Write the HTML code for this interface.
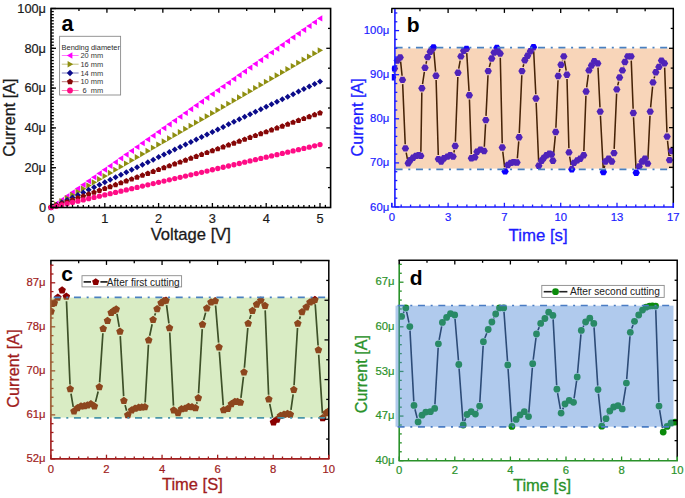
<!DOCTYPE html>
<html><head><meta charset="utf-8"><title>Figure</title>
<style>html,body{margin:0;padding:0;background:#fff;}svg{display:block;}</style>
</head><body><svg width="685" height="498" viewBox="0 0 685 498" font-family='"Liberation Sans", sans-serif'><defs><clipPath id="cb"><rect x="391.8" y="8.6" width="281.5" height="198.4"/></clipPath><clipPath id="cc"><rect x="50.9" y="260.6" width="277.9" height="198.3"/></clipPath><clipPath id="cd"><rect x="399.2" y="260.2" width="278" height="200.5"/></clipPath></defs><rect width="685" height="498" fill="#fff"/><polygon points="47.9,207.5 53.33,204.4 53.33,210.6" fill="#ff00ff"/><polygon points="53.28,203.72 58.71,200.62 58.71,206.82" fill="#ff00ff"/><polygon points="58.66,199.94 64.08,196.84 64.08,203.04" fill="#ff00ff"/><polygon points="64.04,196.16 69.47,193.06 69.47,199.26" fill="#ff00ff"/><polygon points="69.42,192.38 74.84,189.28 74.84,195.48" fill="#ff00ff"/><polygon points="74.8,188.59 80.23,185.5 80.23,191.69" fill="#ff00ff"/><polygon points="80.18,184.81 85.61,181.71 85.61,187.91" fill="#ff00ff"/><polygon points="85.56,181.03 90.98,177.93 90.98,184.13" fill="#ff00ff"/><polygon points="90.94,177.25 96.36,174.15 96.36,180.35" fill="#ff00ff"/><polygon points="96.32,173.47 101.75,170.37 101.75,176.57" fill="#ff00ff"/><polygon points="101.7,169.69 107.12,166.59 107.12,172.79" fill="#ff00ff"/><polygon points="107.08,165.91 112.51,162.81 112.51,169.01" fill="#ff00ff"/><polygon points="112.46,162.13 117.89,159.03 117.89,165.23" fill="#ff00ff"/><polygon points="117.84,158.35 123.27,155.25 123.27,161.45" fill="#ff00ff"/><polygon points="123.22,154.57 128.65,151.47 128.65,157.67" fill="#ff00ff"/><polygon points="128.6,150.78 134.02,147.69 134.02,153.88" fill="#ff00ff"/><polygon points="133.98,147 139.4,143.9 139.4,150.1" fill="#ff00ff"/><polygon points="139.36,143.22 144.78,140.12 144.78,146.32" fill="#ff00ff"/><polygon points="144.74,139.44 150.16,136.34 150.16,142.54" fill="#ff00ff"/><polygon points="150.12,135.66 155.54,132.56 155.54,138.76" fill="#ff00ff"/><polygon points="155.5,131.88 160.92,128.78 160.92,134.98" fill="#ff00ff"/><polygon points="160.88,128.1 166.31,125 166.31,131.2" fill="#ff00ff"/><polygon points="166.26,124.32 171.69,121.22 171.69,127.42" fill="#ff00ff"/><polygon points="171.64,120.54 177.06,117.44 177.06,123.64" fill="#ff00ff"/><polygon points="177.02,116.76 182.44,113.66 182.44,119.86" fill="#ff00ff"/><polygon points="182.4,112.97 187.82,109.88 187.82,116.07" fill="#ff00ff"/><polygon points="187.78,109.19 193.2,106.09 193.2,112.29" fill="#ff00ff"/><polygon points="193.16,105.41 198.58,102.31 198.58,108.51" fill="#ff00ff"/><polygon points="198.54,101.63 203.97,98.53 203.97,104.73" fill="#ff00ff"/><polygon points="203.92,97.85 209.34,94.75 209.34,100.95" fill="#ff00ff"/><polygon points="209.3,94.07 214.72,90.97 214.72,97.17" fill="#ff00ff"/><polygon points="214.68,90.29 220.1,87.19 220.1,93.39" fill="#ff00ff"/><polygon points="220.06,86.51 225.48,83.41 225.48,89.61" fill="#ff00ff"/><polygon points="225.44,82.73 230.86,79.63 230.86,85.83" fill="#ff00ff"/><polygon points="230.82,78.95 236.25,75.85 236.25,82.05" fill="#ff00ff"/><polygon points="236.2,75.16 241.62,72.06 241.62,78.26" fill="#ff00ff"/><polygon points="241.58,71.38 247,68.28 247,74.48" fill="#ff00ff"/><polygon points="246.96,67.6 252.38,64.5 252.38,70.7" fill="#ff00ff"/><polygon points="252.34,63.82 257.76,60.72 257.76,66.92" fill="#ff00ff"/><polygon points="257.72,60.04 263.15,56.94 263.15,63.14" fill="#ff00ff"/><polygon points="263.1,56.26 268.52,53.16 268.52,59.36" fill="#ff00ff"/><polygon points="268.48,52.48 273.91,49.38 273.91,55.58" fill="#ff00ff"/><polygon points="273.86,48.7 279.29,45.6 279.29,51.8" fill="#ff00ff"/><polygon points="279.24,44.92 284.66,41.82 284.66,48.02" fill="#ff00ff"/><polygon points="284.62,41.14 290.05,38.04 290.05,44.24" fill="#ff00ff"/><polygon points="290,37.35 295.43,34.25 295.43,40.45" fill="#ff00ff"/><polygon points="295.38,33.57 300.81,30.47 300.81,36.67" fill="#ff00ff"/><polygon points="300.76,29.79 306.19,26.69 306.19,32.89" fill="#ff00ff"/><polygon points="306.14,26.01 311.56,22.91 311.56,29.11" fill="#ff00ff"/><polygon points="311.52,22.23 316.94,19.13 316.94,25.33" fill="#ff00ff"/><polygon points="316.9,18.45 322.32,15.35 322.32,21.55" fill="#ff00ff"/><polygon points="54.1,207.5 48.67,204.4 48.67,210.6" fill="#8e8e10"/><polygon points="59.48,204.36 54.05,201.26 54.05,207.46" fill="#8e8e10"/><polygon points="64.86,201.21 59.43,198.11 59.43,204.31" fill="#8e8e10"/><polygon points="70.24,198.07 64.81,194.97 64.81,201.17" fill="#8e8e10"/><polygon points="75.62,194.92 70.19,191.82 70.19,198.02" fill="#8e8e10"/><polygon points="81,191.78 75.58,188.68 75.58,194.88" fill="#8e8e10"/><polygon points="86.38,188.63 80.95,185.53 80.95,191.73" fill="#8e8e10"/><polygon points="91.76,185.49 86.33,182.39 86.33,188.59" fill="#8e8e10"/><polygon points="97.14,182.35 91.71,179.25 91.71,185.45" fill="#8e8e10"/><polygon points="102.52,179.2 97.09,176.1 97.09,182.3" fill="#8e8e10"/><polygon points="107.9,176.06 102.47,172.96 102.47,179.16" fill="#8e8e10"/><polygon points="113.28,172.91 107.86,169.81 107.86,176.01" fill="#8e8e10"/><polygon points="118.66,169.77 113.23,166.67 113.23,172.87" fill="#8e8e10"/><polygon points="124.04,166.63 118.61,163.53 118.61,169.73" fill="#8e8e10"/><polygon points="129.42,163.48 124,160.38 124,166.58" fill="#8e8e10"/><polygon points="134.8,160.34 129.38,157.24 129.38,163.44" fill="#8e8e10"/><polygon points="140.18,157.19 134.75,154.09 134.75,160.29" fill="#8e8e10"/><polygon points="145.56,154.05 140.14,150.95 140.14,157.15" fill="#8e8e10"/><polygon points="150.94,150.9 145.52,147.8 145.52,154" fill="#8e8e10"/><polygon points="156.32,147.76 150.9,144.66 150.9,150.86" fill="#8e8e10"/><polygon points="161.7,144.62 156.28,141.52 156.28,147.72" fill="#8e8e10"/><polygon points="167.08,141.47 161.66,138.37 161.66,144.57" fill="#8e8e10"/><polygon points="172.46,138.33 167.04,135.23 167.04,141.43" fill="#8e8e10"/><polygon points="177.84,135.18 172.42,132.08 172.42,138.28" fill="#8e8e10"/><polygon points="183.22,132.04 177.8,128.94 177.8,135.14" fill="#8e8e10"/><polygon points="188.6,128.89 183.18,125.79 183.18,131.99" fill="#8e8e10"/><polygon points="193.98,125.75 188.56,122.65 188.56,128.85" fill="#8e8e10"/><polygon points="199.36,122.61 193.94,119.51 193.94,125.71" fill="#8e8e10"/><polygon points="204.74,119.46 199.32,116.36 199.32,122.56" fill="#8e8e10"/><polygon points="210.12,116.32 204.7,113.22 204.7,119.42" fill="#8e8e10"/><polygon points="215.5,113.17 210.07,110.07 210.07,116.27" fill="#8e8e10"/><polygon points="220.88,110.03 215.46,106.93 215.46,113.13" fill="#8e8e10"/><polygon points="226.26,106.89 220.84,103.79 220.84,109.99" fill="#8e8e10"/><polygon points="231.64,103.74 226.22,100.64 226.22,106.84" fill="#8e8e10"/><polygon points="237.02,100.6 231.6,97.5 231.6,103.7" fill="#8e8e10"/><polygon points="242.4,97.45 236.97,94.35 236.97,100.55" fill="#8e8e10"/><polygon points="247.78,94.31 242.36,91.21 242.36,97.41" fill="#8e8e10"/><polygon points="253.16,91.16 247.74,88.06 247.74,94.26" fill="#8e8e10"/><polygon points="258.54,88.02 253.12,84.92 253.12,91.12" fill="#8e8e10"/><polygon points="263.92,84.88 258.5,81.78 258.5,87.98" fill="#8e8e10"/><polygon points="269.3,81.73 263.88,78.63 263.88,84.83" fill="#8e8e10"/><polygon points="274.68,78.59 269.26,75.49 269.26,81.69" fill="#8e8e10"/><polygon points="280.06,75.44 274.64,72.34 274.64,78.54" fill="#8e8e10"/><polygon points="285.44,72.3 280.01,69.2 280.01,75.4" fill="#8e8e10"/><polygon points="290.82,69.16 285.4,66.06 285.4,72.26" fill="#8e8e10"/><polygon points="296.2,66.01 290.78,62.91 290.78,69.11" fill="#8e8e10"/><polygon points="301.58,62.87 296.16,59.77 296.16,65.97" fill="#8e8e10"/><polygon points="306.96,59.72 301.54,56.62 301.54,62.82" fill="#8e8e10"/><polygon points="312.34,56.58 306.92,53.48 306.92,59.68" fill="#8e8e10"/><polygon points="317.72,53.43 312.3,50.33 312.3,56.53" fill="#8e8e10"/><polygon points="323.1,50.29 317.68,47.19 317.68,53.39" fill="#8e8e10"/><polygon points="51,204.5 54,207.5 51,210.5 48,207.5" fill="#0b0b8a"/><polygon points="56.38,201.98 59.38,204.98 56.38,207.98 53.38,204.98" fill="#0b0b8a"/><polygon points="61.76,199.46 64.76,202.46 61.76,205.46 58.76,202.46" fill="#0b0b8a"/><polygon points="67.14,196.94 70.14,199.94 67.14,202.94 64.14,199.94" fill="#0b0b8a"/><polygon points="72.52,194.42 75.52,197.42 72.52,200.42 69.52,197.42" fill="#0b0b8a"/><polygon points="77.9,191.9 80.9,194.9 77.9,197.9 74.9,194.9" fill="#0b0b8a"/><polygon points="83.28,189.38 86.28,192.38 83.28,195.38 80.28,192.38" fill="#0b0b8a"/><polygon points="88.66,186.86 91.66,189.86 88.66,192.86 85.66,189.86" fill="#0b0b8a"/><polygon points="94.04,184.35 97.04,187.35 94.04,190.35 91.04,187.35" fill="#0b0b8a"/><polygon points="99.42,181.83 102.42,184.83 99.42,187.83 96.42,184.83" fill="#0b0b8a"/><polygon points="104.8,179.31 107.8,182.31 104.8,185.31 101.8,182.31" fill="#0b0b8a"/><polygon points="110.18,176.79 113.18,179.79 110.18,182.79 107.18,179.79" fill="#0b0b8a"/><polygon points="115.56,174.27 118.56,177.27 115.56,180.27 112.56,177.27" fill="#0b0b8a"/><polygon points="120.94,171.75 123.94,174.75 120.94,177.75 117.94,174.75" fill="#0b0b8a"/><polygon points="126.32,169.23 129.32,172.23 126.32,175.23 123.32,172.23" fill="#0b0b8a"/><polygon points="131.7,166.71 134.7,169.71 131.7,172.71 128.7,169.71" fill="#0b0b8a"/><polygon points="137.08,164.19 140.08,167.19 137.08,170.19 134.08,167.19" fill="#0b0b8a"/><polygon points="142.46,161.67 145.46,164.67 142.46,167.67 139.46,164.67" fill="#0b0b8a"/><polygon points="147.84,159.15 150.84,162.15 147.84,165.15 144.84,162.15" fill="#0b0b8a"/><polygon points="153.22,156.63 156.22,159.63 153.22,162.63 150.22,159.63" fill="#0b0b8a"/><polygon points="158.6,154.11 161.6,157.11 158.6,160.11 155.6,157.11" fill="#0b0b8a"/><polygon points="163.98,151.59 166.98,154.59 163.98,157.59 160.98,154.59" fill="#0b0b8a"/><polygon points="169.36,149.07 172.36,152.07 169.36,155.07 166.36,152.07" fill="#0b0b8a"/><polygon points="174.74,146.56 177.74,149.56 174.74,152.56 171.74,149.56" fill="#0b0b8a"/><polygon points="180.12,144.04 183.12,147.04 180.12,150.04 177.12,147.04" fill="#0b0b8a"/><polygon points="185.5,141.52 188.5,144.52 185.5,147.52 182.5,144.52" fill="#0b0b8a"/><polygon points="190.88,139 193.88,142 190.88,145 187.88,142" fill="#0b0b8a"/><polygon points="196.26,136.48 199.26,139.48 196.26,142.48 193.26,139.48" fill="#0b0b8a"/><polygon points="201.64,133.96 204.64,136.96 201.64,139.96 198.64,136.96" fill="#0b0b8a"/><polygon points="207.02,131.44 210.02,134.44 207.02,137.44 204.02,134.44" fill="#0b0b8a"/><polygon points="212.4,128.92 215.4,131.92 212.4,134.92 209.4,131.92" fill="#0b0b8a"/><polygon points="217.78,126.4 220.78,129.4 217.78,132.4 214.78,129.4" fill="#0b0b8a"/><polygon points="223.16,123.88 226.16,126.88 223.16,129.88 220.16,126.88" fill="#0b0b8a"/><polygon points="228.54,121.36 231.54,124.36 228.54,127.36 225.54,124.36" fill="#0b0b8a"/><polygon points="233.92,118.84 236.92,121.84 233.92,124.84 230.92,121.84" fill="#0b0b8a"/><polygon points="239.3,116.32 242.3,119.32 239.3,122.32 236.3,119.32" fill="#0b0b8a"/><polygon points="244.68,113.8 247.68,116.8 244.68,119.8 241.68,116.8" fill="#0b0b8a"/><polygon points="250.06,111.28 253.06,114.28 250.06,117.28 247.06,114.28" fill="#0b0b8a"/><polygon points="255.44,108.77 258.44,111.77 255.44,114.77 252.44,111.77" fill="#0b0b8a"/><polygon points="260.82,106.25 263.82,109.25 260.82,112.25 257.82,109.25" fill="#0b0b8a"/><polygon points="266.2,103.73 269.2,106.73 266.2,109.73 263.2,106.73" fill="#0b0b8a"/><polygon points="271.58,101.21 274.58,104.21 271.58,107.21 268.58,104.21" fill="#0b0b8a"/><polygon points="276.96,98.69 279.96,101.69 276.96,104.69 273.96,101.69" fill="#0b0b8a"/><polygon points="282.34,96.17 285.34,99.17 282.34,102.17 279.34,99.17" fill="#0b0b8a"/><polygon points="287.72,93.65 290.72,96.65 287.72,99.65 284.72,96.65" fill="#0b0b8a"/><polygon points="293.1,91.13 296.1,94.13 293.1,97.13 290.1,94.13" fill="#0b0b8a"/><polygon points="298.48,88.61 301.48,91.61 298.48,94.61 295.48,91.61" fill="#0b0b8a"/><polygon points="303.86,86.09 306.86,89.09 303.86,92.09 300.86,89.09" fill="#0b0b8a"/><polygon points="309.24,83.57 312.24,86.57 309.24,89.57 306.24,86.57" fill="#0b0b8a"/><polygon points="314.62,81.05 317.62,84.05 314.62,87.05 311.62,84.05" fill="#0b0b8a"/><polygon points="320,78.53 323,81.53 320,84.53 317,81.53" fill="#0b0b8a"/><polygon points="51,204.5 53.85,206.57 52.76,209.93 49.24,209.93 48.15,206.57" fill="#860606"/><polygon points="56.38,202.61 59.23,204.68 58.14,208.04 54.62,208.04 53.53,204.68" fill="#860606"/><polygon points="61.76,200.72 64.61,202.79 63.52,206.15 60,206.15 58.91,202.79" fill="#860606"/><polygon points="67.14,198.83 69.99,200.9 68.9,204.26 65.38,204.26 64.29,200.9" fill="#860606"/><polygon points="72.52,196.94 75.37,199.01 74.28,202.37 70.76,202.37 69.67,199.01" fill="#860606"/><polygon points="77.9,195.05 80.75,197.12 79.66,200.47 76.14,200.47 75.05,197.12" fill="#860606"/><polygon points="83.28,193.16 86.13,195.23 85.04,198.58 81.52,198.58 80.43,195.23" fill="#860606"/><polygon points="88.66,191.27 91.51,193.34 90.42,196.69 86.9,196.69 85.81,193.34" fill="#860606"/><polygon points="94.04,189.38 96.89,191.45 95.8,194.8 92.28,194.8 91.19,191.45" fill="#860606"/><polygon points="99.42,187.49 102.27,189.56 101.18,192.91 97.66,192.91 96.57,189.56" fill="#860606"/><polygon points="104.8,185.59 107.65,187.67 106.56,191.02 103.04,191.02 101.95,187.67" fill="#860606"/><polygon points="110.18,183.7 113.03,185.78 111.94,189.13 108.42,189.13 107.33,185.78" fill="#860606"/><polygon points="115.56,181.81 118.41,183.89 117.32,187.24 113.8,187.24 112.71,183.89" fill="#860606"/><polygon points="120.94,179.92 123.79,182 122.7,185.35 119.18,185.35 118.09,182" fill="#860606"/><polygon points="126.32,178.03 129.17,180.11 128.08,183.46 124.56,183.46 123.47,180.11" fill="#860606"/><polygon points="131.7,176.14 134.55,178.22 133.46,181.57 129.94,181.57 128.85,178.22" fill="#860606"/><polygon points="137.08,174.25 139.93,176.32 138.84,179.68 135.32,179.68 134.23,176.32" fill="#860606"/><polygon points="142.46,172.36 145.31,174.43 144.22,177.79 140.7,177.79 139.61,174.43" fill="#860606"/><polygon points="147.84,170.47 150.69,172.54 149.6,175.9 146.08,175.9 144.99,172.54" fill="#860606"/><polygon points="153.22,168.58 156.07,170.65 154.98,174.01 151.46,174.01 150.37,170.65" fill="#860606"/><polygon points="158.6,166.69 161.45,168.76 160.36,172.12 156.84,172.12 155.75,168.76" fill="#860606"/><polygon points="163.98,164.8 166.83,166.87 165.74,170.23 162.22,170.23 161.13,166.87" fill="#860606"/><polygon points="169.36,162.91 172.21,164.98 171.12,168.34 167.6,168.34 166.51,164.98" fill="#860606"/><polygon points="174.74,161.02 177.59,163.09 176.5,166.45 172.98,166.45 171.89,163.09" fill="#860606"/><polygon points="180.12,159.13 182.97,161.2 181.88,164.56 178.36,164.56 177.27,161.2" fill="#860606"/><polygon points="185.5,157.24 188.35,159.31 187.26,162.66 183.74,162.66 182.65,159.31" fill="#860606"/><polygon points="190.88,155.35 193.73,157.42 192.64,160.77 189.12,160.77 188.03,157.42" fill="#860606"/><polygon points="196.26,153.46 199.11,155.53 198.02,158.88 194.5,158.88 193.41,155.53" fill="#860606"/><polygon points="201.64,151.57 204.49,153.64 203.4,156.99 199.88,156.99 198.79,153.64" fill="#860606"/><polygon points="207.02,149.68 209.87,151.75 208.78,155.1 205.26,155.1 204.17,151.75" fill="#860606"/><polygon points="212.4,147.78 215.25,149.86 214.16,153.21 210.64,153.21 209.55,149.86" fill="#860606"/><polygon points="217.78,145.89 220.63,147.97 219.54,151.32 216.02,151.32 214.93,147.97" fill="#860606"/><polygon points="223.16,144 226.01,146.08 224.92,149.43 221.4,149.43 220.31,146.08" fill="#860606"/><polygon points="228.54,142.11 231.39,144.19 230.3,147.54 226.78,147.54 225.69,144.19" fill="#860606"/><polygon points="233.92,140.22 236.77,142.3 235.68,145.65 232.16,145.65 231.07,142.3" fill="#860606"/><polygon points="239.3,138.33 242.15,140.41 241.06,143.76 237.54,143.76 236.45,140.41" fill="#860606"/><polygon points="244.68,136.44 247.53,138.51 246.44,141.87 242.92,141.87 241.83,138.51" fill="#860606"/><polygon points="250.06,134.55 252.91,136.62 251.82,139.98 248.3,139.98 247.21,136.62" fill="#860606"/><polygon points="255.44,132.66 258.29,134.73 257.2,138.09 253.68,138.09 252.59,134.73" fill="#860606"/><polygon points="260.82,130.77 263.67,132.84 262.58,136.2 259.06,136.2 257.97,132.84" fill="#860606"/><polygon points="266.2,128.88 269.05,130.95 267.96,134.31 264.44,134.31 263.35,130.95" fill="#860606"/><polygon points="271.58,126.99 274.43,129.06 273.34,132.42 269.82,132.42 268.73,129.06" fill="#860606"/><polygon points="276.96,125.1 279.81,127.17 278.72,130.53 275.2,130.53 274.11,127.17" fill="#860606"/><polygon points="282.34,123.21 285.19,125.28 284.1,128.64 280.58,128.64 279.49,125.28" fill="#860606"/><polygon points="287.72,121.32 290.57,123.39 289.48,126.75 285.96,126.75 284.87,123.39" fill="#860606"/><polygon points="293.1,119.43 295.95,121.5 294.86,124.85 291.34,124.85 290.25,121.5" fill="#860606"/><polygon points="298.48,117.54 301.33,119.61 300.24,122.96 296.72,122.96 295.63,119.61" fill="#860606"/><polygon points="303.86,115.65 306.71,117.72 305.62,121.07 302.1,121.07 301.01,117.72" fill="#860606"/><polygon points="309.24,113.76 312.09,115.83 311,119.18 307.48,119.18 306.39,115.83" fill="#860606"/><polygon points="314.62,111.87 317.47,113.94 316.38,117.29 312.86,117.29 311.77,113.94" fill="#860606"/><polygon points="320,109.97 322.85,112.05 321.76,115.4 318.24,115.4 317.15,112.05" fill="#860606"/><circle cx="51" cy="207.5" r="2.65" fill="#ff0c86"/><circle cx="56.38" cy="206.24" r="2.65" fill="#ff0c86"/><circle cx="61.76" cy="204.98" r="2.65" fill="#ff0c86"/><circle cx="67.14" cy="203.73" r="2.65" fill="#ff0c86"/><circle cx="72.52" cy="202.47" r="2.65" fill="#ff0c86"/><circle cx="77.9" cy="201.21" r="2.65" fill="#ff0c86"/><circle cx="83.28" cy="199.95" r="2.65" fill="#ff0c86"/><circle cx="88.66" cy="198.7" r="2.65" fill="#ff0c86"/><circle cx="94.04" cy="197.44" r="2.65" fill="#ff0c86"/><circle cx="99.42" cy="196.18" r="2.65" fill="#ff0c86"/><circle cx="104.8" cy="194.92" r="2.65" fill="#ff0c86"/><circle cx="110.18" cy="193.67" r="2.65" fill="#ff0c86"/><circle cx="115.56" cy="192.41" r="2.65" fill="#ff0c86"/><circle cx="120.94" cy="191.15" r="2.65" fill="#ff0c86"/><circle cx="126.32" cy="189.89" r="2.65" fill="#ff0c86"/><circle cx="131.7" cy="188.63" r="2.65" fill="#ff0c86"/><circle cx="137.08" cy="187.38" r="2.65" fill="#ff0c86"/><circle cx="142.46" cy="186.12" r="2.65" fill="#ff0c86"/><circle cx="147.84" cy="184.86" r="2.65" fill="#ff0c86"/><circle cx="153.22" cy="183.6" r="2.65" fill="#ff0c86"/><circle cx="158.6" cy="182.35" r="2.65" fill="#ff0c86"/><circle cx="163.98" cy="181.09" r="2.65" fill="#ff0c86"/><circle cx="169.36" cy="179.83" r="2.65" fill="#ff0c86"/><circle cx="174.74" cy="178.57" r="2.65" fill="#ff0c86"/><circle cx="180.12" cy="177.32" r="2.65" fill="#ff0c86"/><circle cx="185.5" cy="176.06" r="2.65" fill="#ff0c86"/><circle cx="190.88" cy="174.8" r="2.65" fill="#ff0c86"/><circle cx="196.26" cy="173.54" r="2.65" fill="#ff0c86"/><circle cx="201.64" cy="172.28" r="2.65" fill="#ff0c86"/><circle cx="207.02" cy="171.03" r="2.65" fill="#ff0c86"/><circle cx="212.4" cy="169.77" r="2.65" fill="#ff0c86"/><circle cx="217.78" cy="168.51" r="2.65" fill="#ff0c86"/><circle cx="223.16" cy="167.25" r="2.65" fill="#ff0c86"/><circle cx="228.54" cy="166" r="2.65" fill="#ff0c86"/><circle cx="233.92" cy="164.74" r="2.65" fill="#ff0c86"/><circle cx="239.3" cy="163.48" r="2.65" fill="#ff0c86"/><circle cx="244.68" cy="162.22" r="2.65" fill="#ff0c86"/><circle cx="250.06" cy="160.97" r="2.65" fill="#ff0c86"/><circle cx="255.44" cy="159.71" r="2.65" fill="#ff0c86"/><circle cx="260.82" cy="158.45" r="2.65" fill="#ff0c86"/><circle cx="266.2" cy="157.19" r="2.65" fill="#ff0c86"/><circle cx="271.58" cy="155.94" r="2.65" fill="#ff0c86"/><circle cx="276.96" cy="154.68" r="2.65" fill="#ff0c86"/><circle cx="282.34" cy="153.42" r="2.65" fill="#ff0c86"/><circle cx="287.72" cy="152.16" r="2.65" fill="#ff0c86"/><circle cx="293.1" cy="150.9" r="2.65" fill="#ff0c86"/><circle cx="298.48" cy="149.65" r="2.65" fill="#ff0c86"/><circle cx="303.86" cy="148.39" r="2.65" fill="#ff0c86"/><circle cx="309.24" cy="147.13" r="2.65" fill="#ff0c86"/><circle cx="314.62" cy="145.87" r="2.65" fill="#ff0c86"/><circle cx="320" cy="144.62" r="2.65" fill="#ff0c86"/><rect x="51" y="8.5" width="279.6" height="199" fill="none" stroke="#000" stroke-width="1.6"/><line x1="78.96" y1="8.5" x2="78.96" y2="11.1" stroke="#000" stroke-width="1.3"/><line x1="330.6" y1="28.4" x2="328" y2="28.4" stroke="#000" stroke-width="1.3"/><line x1="106.92" y1="8.5" x2="106.92" y2="12.8" stroke="#000" stroke-width="1.3"/><line x1="330.6" y1="48.3" x2="326.3" y2="48.3" stroke="#000" stroke-width="1.3"/><line x1="134.88" y1="8.5" x2="134.88" y2="11.1" stroke="#000" stroke-width="1.3"/><line x1="330.6" y1="68.2" x2="328" y2="68.2" stroke="#000" stroke-width="1.3"/><line x1="162.84" y1="8.5" x2="162.84" y2="12.8" stroke="#000" stroke-width="1.3"/><line x1="330.6" y1="88.1" x2="326.3" y2="88.1" stroke="#000" stroke-width="1.3"/><line x1="190.8" y1="8.5" x2="190.8" y2="11.1" stroke="#000" stroke-width="1.3"/><line x1="330.6" y1="108" x2="328" y2="108" stroke="#000" stroke-width="1.3"/><line x1="218.76" y1="8.5" x2="218.76" y2="12.8" stroke="#000" stroke-width="1.3"/><line x1="330.6" y1="127.9" x2="326.3" y2="127.9" stroke="#000" stroke-width="1.3"/><line x1="246.72" y1="8.5" x2="246.72" y2="11.1" stroke="#000" stroke-width="1.3"/><line x1="330.6" y1="147.8" x2="328" y2="147.8" stroke="#000" stroke-width="1.3"/><line x1="274.68" y1="8.5" x2="274.68" y2="12.8" stroke="#000" stroke-width="1.3"/><line x1="330.6" y1="167.7" x2="326.3" y2="167.7" stroke="#000" stroke-width="1.3"/><line x1="302.64" y1="8.5" x2="302.64" y2="11.1" stroke="#000" stroke-width="1.3"/><line x1="330.6" y1="187.6" x2="328" y2="187.6" stroke="#000" stroke-width="1.3"/><line x1="51" y1="207.5" x2="51" y2="203" stroke="#000" stroke-width="1.3"/><line x1="56.38" y1="207.5" x2="56.38" y2="204.9" stroke="#000" stroke-width="1.3"/><line x1="61.76" y1="207.5" x2="61.76" y2="204.9" stroke="#000" stroke-width="1.3"/><line x1="67.14" y1="207.5" x2="67.14" y2="204.9" stroke="#000" stroke-width="1.3"/><line x1="72.52" y1="207.5" x2="72.52" y2="204.9" stroke="#000" stroke-width="1.3"/><line x1="77.9" y1="207.5" x2="77.9" y2="204.9" stroke="#000" stroke-width="1.3"/><line x1="83.28" y1="207.5" x2="83.28" y2="204.9" stroke="#000" stroke-width="1.3"/><line x1="88.66" y1="207.5" x2="88.66" y2="204.9" stroke="#000" stroke-width="1.3"/><line x1="94.04" y1="207.5" x2="94.04" y2="204.9" stroke="#000" stroke-width="1.3"/><line x1="99.42" y1="207.5" x2="99.42" y2="204.9" stroke="#000" stroke-width="1.3"/><line x1="104.8" y1="207.5" x2="104.8" y2="203" stroke="#000" stroke-width="1.3"/><line x1="110.18" y1="207.5" x2="110.18" y2="204.9" stroke="#000" stroke-width="1.3"/><line x1="115.56" y1="207.5" x2="115.56" y2="204.9" stroke="#000" stroke-width="1.3"/><line x1="120.94" y1="207.5" x2="120.94" y2="204.9" stroke="#000" stroke-width="1.3"/><line x1="126.32" y1="207.5" x2="126.32" y2="204.9" stroke="#000" stroke-width="1.3"/><line x1="131.7" y1="207.5" x2="131.7" y2="204.9" stroke="#000" stroke-width="1.3"/><line x1="137.08" y1="207.5" x2="137.08" y2="204.9" stroke="#000" stroke-width="1.3"/><line x1="142.46" y1="207.5" x2="142.46" y2="204.9" stroke="#000" stroke-width="1.3"/><line x1="147.84" y1="207.5" x2="147.84" y2="204.9" stroke="#000" stroke-width="1.3"/><line x1="153.22" y1="207.5" x2="153.22" y2="204.9" stroke="#000" stroke-width="1.3"/><line x1="158.6" y1="207.5" x2="158.6" y2="203" stroke="#000" stroke-width="1.3"/><line x1="163.98" y1="207.5" x2="163.98" y2="204.9" stroke="#000" stroke-width="1.3"/><line x1="169.36" y1="207.5" x2="169.36" y2="204.9" stroke="#000" stroke-width="1.3"/><line x1="174.74" y1="207.5" x2="174.74" y2="204.9" stroke="#000" stroke-width="1.3"/><line x1="180.12" y1="207.5" x2="180.12" y2="204.9" stroke="#000" stroke-width="1.3"/><line x1="185.5" y1="207.5" x2="185.5" y2="204.9" stroke="#000" stroke-width="1.3"/><line x1="190.88" y1="207.5" x2="190.88" y2="204.9" stroke="#000" stroke-width="1.3"/><line x1="196.26" y1="207.5" x2="196.26" y2="204.9" stroke="#000" stroke-width="1.3"/><line x1="201.64" y1="207.5" x2="201.64" y2="204.9" stroke="#000" stroke-width="1.3"/><line x1="207.02" y1="207.5" x2="207.02" y2="204.9" stroke="#000" stroke-width="1.3"/><line x1="212.4" y1="207.5" x2="212.4" y2="203" stroke="#000" stroke-width="1.3"/><line x1="217.78" y1="207.5" x2="217.78" y2="204.9" stroke="#000" stroke-width="1.3"/><line x1="223.16" y1="207.5" x2="223.16" y2="204.9" stroke="#000" stroke-width="1.3"/><line x1="228.54" y1="207.5" x2="228.54" y2="204.9" stroke="#000" stroke-width="1.3"/><line x1="233.92" y1="207.5" x2="233.92" y2="204.9" stroke="#000" stroke-width="1.3"/><line x1="239.3" y1="207.5" x2="239.3" y2="204.9" stroke="#000" stroke-width="1.3"/><line x1="244.68" y1="207.5" x2="244.68" y2="204.9" stroke="#000" stroke-width="1.3"/><line x1="250.06" y1="207.5" x2="250.06" y2="204.9" stroke="#000" stroke-width="1.3"/><line x1="255.44" y1="207.5" x2="255.44" y2="204.9" stroke="#000" stroke-width="1.3"/><line x1="260.82" y1="207.5" x2="260.82" y2="204.9" stroke="#000" stroke-width="1.3"/><line x1="266.2" y1="207.5" x2="266.2" y2="203" stroke="#000" stroke-width="1.3"/><line x1="271.58" y1="207.5" x2="271.58" y2="204.9" stroke="#000" stroke-width="1.3"/><line x1="276.96" y1="207.5" x2="276.96" y2="204.9" stroke="#000" stroke-width="1.3"/><line x1="282.34" y1="207.5" x2="282.34" y2="204.9" stroke="#000" stroke-width="1.3"/><line x1="287.72" y1="207.5" x2="287.72" y2="204.9" stroke="#000" stroke-width="1.3"/><line x1="293.1" y1="207.5" x2="293.1" y2="204.9" stroke="#000" stroke-width="1.3"/><line x1="298.48" y1="207.5" x2="298.48" y2="204.9" stroke="#000" stroke-width="1.3"/><line x1="303.86" y1="207.5" x2="303.86" y2="204.9" stroke="#000" stroke-width="1.3"/><line x1="309.24" y1="207.5" x2="309.24" y2="204.9" stroke="#000" stroke-width="1.3"/><line x1="314.62" y1="207.5" x2="314.62" y2="204.9" stroke="#000" stroke-width="1.3"/><line x1="320" y1="207.5" x2="320" y2="203" stroke="#000" stroke-width="1.3"/><line x1="325.38" y1="207.5" x2="325.38" y2="204.9" stroke="#000" stroke-width="1.3"/><line x1="51" y1="207.5" x2="53.8" y2="207.5" stroke="#000" stroke-width="1.3"/><line x1="51" y1="204.44" x2="53.8" y2="204.44" stroke="#000" stroke-width="1.3"/><line x1="51" y1="201.38" x2="53.8" y2="201.38" stroke="#000" stroke-width="1.3"/><line x1="51" y1="198.32" x2="53.8" y2="198.32" stroke="#000" stroke-width="1.3"/><line x1="51" y1="195.25" x2="53.8" y2="195.25" stroke="#000" stroke-width="1.3"/><line x1="51" y1="192.19" x2="53.8" y2="192.19" stroke="#000" stroke-width="1.3"/><line x1="51" y1="189.13" x2="53.8" y2="189.13" stroke="#000" stroke-width="1.3"/><line x1="51" y1="186.07" x2="53.8" y2="186.07" stroke="#000" stroke-width="1.3"/><line x1="51" y1="183.01" x2="53.8" y2="183.01" stroke="#000" stroke-width="1.3"/><line x1="51" y1="179.95" x2="53.8" y2="179.95" stroke="#000" stroke-width="1.3"/><line x1="51" y1="176.88" x2="53.8" y2="176.88" stroke="#000" stroke-width="1.3"/><line x1="51" y1="173.82" x2="53.8" y2="173.82" stroke="#000" stroke-width="1.3"/><line x1="51" y1="170.76" x2="53.8" y2="170.76" stroke="#000" stroke-width="1.3"/><line x1="51" y1="167.7" x2="53.8" y2="167.7" stroke="#000" stroke-width="1.3"/><line x1="51" y1="164.64" x2="53.8" y2="164.64" stroke="#000" stroke-width="1.3"/><line x1="51" y1="161.58" x2="53.8" y2="161.58" stroke="#000" stroke-width="1.3"/><line x1="51" y1="158.52" x2="53.8" y2="158.52" stroke="#000" stroke-width="1.3"/><line x1="51" y1="155.45" x2="53.8" y2="155.45" stroke="#000" stroke-width="1.3"/><line x1="51" y1="152.39" x2="53.8" y2="152.39" stroke="#000" stroke-width="1.3"/><line x1="51" y1="149.33" x2="53.8" y2="149.33" stroke="#000" stroke-width="1.3"/><line x1="51" y1="146.27" x2="53.8" y2="146.27" stroke="#000" stroke-width="1.3"/><line x1="51" y1="143.21" x2="53.8" y2="143.21" stroke="#000" stroke-width="1.3"/><line x1="51" y1="140.15" x2="53.8" y2="140.15" stroke="#000" stroke-width="1.3"/><line x1="51" y1="137.08" x2="53.8" y2="137.08" stroke="#000" stroke-width="1.3"/><line x1="51" y1="134.02" x2="53.8" y2="134.02" stroke="#000" stroke-width="1.3"/><line x1="51" y1="130.96" x2="53.8" y2="130.96" stroke="#000" stroke-width="1.3"/><line x1="51" y1="127.9" x2="53.8" y2="127.9" stroke="#000" stroke-width="1.3"/><line x1="51" y1="124.84" x2="53.8" y2="124.84" stroke="#000" stroke-width="1.3"/><line x1="51" y1="121.78" x2="53.8" y2="121.78" stroke="#000" stroke-width="1.3"/><line x1="51" y1="118.72" x2="53.8" y2="118.72" stroke="#000" stroke-width="1.3"/><line x1="51" y1="115.65" x2="53.8" y2="115.65" stroke="#000" stroke-width="1.3"/><line x1="51" y1="112.59" x2="53.8" y2="112.59" stroke="#000" stroke-width="1.3"/><line x1="51" y1="109.53" x2="53.8" y2="109.53" stroke="#000" stroke-width="1.3"/><line x1="51" y1="106.47" x2="53.8" y2="106.47" stroke="#000" stroke-width="1.3"/><line x1="51" y1="103.41" x2="53.8" y2="103.41" stroke="#000" stroke-width="1.3"/><line x1="51" y1="100.35" x2="53.8" y2="100.35" stroke="#000" stroke-width="1.3"/><line x1="51" y1="97.28" x2="53.8" y2="97.28" stroke="#000" stroke-width="1.3"/><line x1="51" y1="94.22" x2="53.8" y2="94.22" stroke="#000" stroke-width="1.3"/><line x1="51" y1="91.16" x2="53.8" y2="91.16" stroke="#000" stroke-width="1.3"/><line x1="51" y1="88.1" x2="53.8" y2="88.1" stroke="#000" stroke-width="1.3"/><line x1="51" y1="85.04" x2="53.8" y2="85.04" stroke="#000" stroke-width="1.3"/><line x1="51" y1="81.98" x2="53.8" y2="81.98" stroke="#000" stroke-width="1.3"/><line x1="51" y1="78.92" x2="53.8" y2="78.92" stroke="#000" stroke-width="1.3"/><line x1="51" y1="75.85" x2="53.8" y2="75.85" stroke="#000" stroke-width="1.3"/><line x1="51" y1="72.79" x2="53.8" y2="72.79" stroke="#000" stroke-width="1.3"/><line x1="51" y1="69.73" x2="53.8" y2="69.73" stroke="#000" stroke-width="1.3"/><line x1="51" y1="66.67" x2="53.8" y2="66.67" stroke="#000" stroke-width="1.3"/><line x1="51" y1="63.61" x2="53.8" y2="63.61" stroke="#000" stroke-width="1.3"/><line x1="51" y1="60.55" x2="53.8" y2="60.55" stroke="#000" stroke-width="1.3"/><line x1="51" y1="57.48" x2="53.8" y2="57.48" stroke="#000" stroke-width="1.3"/><line x1="51" y1="54.42" x2="53.8" y2="54.42" stroke="#000" stroke-width="1.3"/><line x1="51" y1="51.36" x2="53.8" y2="51.36" stroke="#000" stroke-width="1.3"/><line x1="51" y1="48.3" x2="53.8" y2="48.3" stroke="#000" stroke-width="1.3"/><line x1="51" y1="45.24" x2="53.8" y2="45.24" stroke="#000" stroke-width="1.3"/><line x1="51" y1="42.18" x2="53.8" y2="42.18" stroke="#000" stroke-width="1.3"/><line x1="51" y1="39.12" x2="53.8" y2="39.12" stroke="#000" stroke-width="1.3"/><line x1="51" y1="36.05" x2="53.8" y2="36.05" stroke="#000" stroke-width="1.3"/><line x1="51" y1="32.99" x2="53.8" y2="32.99" stroke="#000" stroke-width="1.3"/><line x1="51" y1="29.93" x2="53.8" y2="29.93" stroke="#000" stroke-width="1.3"/><line x1="51" y1="26.87" x2="53.8" y2="26.87" stroke="#000" stroke-width="1.3"/><line x1="51" y1="23.81" x2="53.8" y2="23.81" stroke="#000" stroke-width="1.3"/><line x1="51" y1="20.75" x2="53.8" y2="20.75" stroke="#000" stroke-width="1.3"/><line x1="51" y1="17.68" x2="53.8" y2="17.68" stroke="#000" stroke-width="1.3"/><line x1="51" y1="14.62" x2="53.8" y2="14.62" stroke="#000" stroke-width="1.3"/><line x1="51" y1="11.56" x2="53.8" y2="11.56" stroke="#000" stroke-width="1.3"/><line x1="51" y1="207.5" x2="56" y2="207.5" stroke="#000" stroke-width="1.3"/><line x1="51" y1="167.7" x2="56" y2="167.7" stroke="#000" stroke-width="1.3"/><line x1="51" y1="127.9" x2="56" y2="127.9" stroke="#000" stroke-width="1.3"/><line x1="51" y1="88.1" x2="56" y2="88.1" stroke="#000" stroke-width="1.3"/><line x1="51" y1="48.3" x2="56" y2="48.3" stroke="#000" stroke-width="1.3"/><line x1="51" y1="8.5" x2="56" y2="8.5" stroke="#000" stroke-width="1.3"/><text x="46" y="211.8" font-size="12.8" fill="#1a1a1a" text-anchor="end" font-weight="normal" stroke="#1a1a1a" stroke-width="0.2">0</text><text x="46" y="172" font-size="12.8" fill="#1a1a1a" text-anchor="end" font-weight="normal" stroke="#1a1a1a" stroke-width="0.2">20&#956;</text><text x="46" y="132.2" font-size="12.8" fill="#1a1a1a" text-anchor="end" font-weight="normal" stroke="#1a1a1a" stroke-width="0.2">40&#956;</text><text x="46" y="92.4" font-size="12.8" fill="#1a1a1a" text-anchor="end" font-weight="normal" stroke="#1a1a1a" stroke-width="0.2">60&#956;</text><text x="46" y="52.6" font-size="12.8" fill="#1a1a1a" text-anchor="end" font-weight="normal" stroke="#1a1a1a" stroke-width="0.2">80&#956;</text><text x="46" y="12.8" font-size="12.8" fill="#1a1a1a" text-anchor="end" font-weight="normal" stroke="#1a1a1a" stroke-width="0.2">100&#956;</text><text x="51" y="222.5" font-size="12.8" fill="#1a1a1a" text-anchor="middle" font-weight="normal" stroke="#1a1a1a" stroke-width="0.2">0</text><text x="104.8" y="222.5" font-size="12.8" fill="#1a1a1a" text-anchor="middle" font-weight="normal" stroke="#1a1a1a" stroke-width="0.2">1</text><text x="158.6" y="222.5" font-size="12.8" fill="#1a1a1a" text-anchor="middle" font-weight="normal" stroke="#1a1a1a" stroke-width="0.2">2</text><text x="212.4" y="222.5" font-size="12.8" fill="#1a1a1a" text-anchor="middle" font-weight="normal" stroke="#1a1a1a" stroke-width="0.2">3</text><text x="266.2" y="222.5" font-size="12.8" fill="#1a1a1a" text-anchor="middle" font-weight="normal" stroke="#1a1a1a" stroke-width="0.2">4</text><text x="320" y="222.5" font-size="12.8" fill="#1a1a1a" text-anchor="middle" font-weight="normal" stroke="#1a1a1a" stroke-width="0.2">5</text><text x="190.8" y="239.6" font-size="16.6" fill="#1a1a1a" text-anchor="middle" font-weight="normal" stroke-width="0.3" stroke="#1a1a1a">Voltage [V]</text><text x="15.2" y="117.7" font-size="16.2" fill="#1a1a1a" text-anchor="middle" font-weight="normal" stroke-width="0.3" stroke="#1a1a1a" transform="rotate(-90 15.2 117.7)">Current [A]</text><text x="61.5" y="30.9" font-size="21.5" fill="#000" text-anchor="start" font-weight="bold">a</text><rect x="59.6" y="36.3" width="61" height="58.7" fill="#fff" stroke="#8a8a8a" stroke-width="0.9"/><text x="61.6" y="49.6" font-size="7.45" fill="#2a2a2a" text-anchor="start" font-weight="normal">Bending diameter</text><line x1="61.8" y1="55.5" x2="78.6" y2="55.5" stroke="#ff00ff" stroke-width="0.9" opacity="0.6"/><polygon points="66.8,55.5 72.4,52.3 72.4,58.7" fill="#ff00ff"/><text x="80.4" y="58.2" font-size="7.45" fill="#333" text-anchor="start" font-weight="normal">20 mm</text><line x1="61.8" y1="64.2" x2="78.6" y2="64.2" stroke="#8e8e10" stroke-width="0.9" opacity="0.6"/><polygon points="73.2,64.2 67.6,61 67.6,67.4" fill="#8e8e10"/><text x="80.4" y="66.9" font-size="7.45" fill="#333" text-anchor="start" font-weight="normal">16 mm</text><line x1="61.8" y1="73" x2="78.6" y2="73" stroke="#0b0b8a" stroke-width="0.9" opacity="0.6"/><polygon points="70,69.8 73.2,73 70,76.2 66.8,73" fill="#0b0b8a"/><text x="80.4" y="75.7" font-size="7.45" fill="#333" text-anchor="start" font-weight="normal">14 mm</text><line x1="61.8" y1="81.7" x2="78.6" y2="81.7" stroke="#860606" stroke-width="0.9" opacity="0.6"/><polygon points="70,78.5 73.04,80.71 71.88,84.29 68.12,84.29 66.96,80.71" fill="#860606"/><text x="80.4" y="84.4" font-size="7.45" fill="#333" text-anchor="start" font-weight="normal">10 mm</text><line x1="61.8" y1="90.5" x2="78.6" y2="90.5" stroke="#ff0c86" stroke-width="0.9" opacity="0.6"/><circle cx="70" cy="90.5" r="2.9" fill="#ff0c86"/><text x="80.4" y="93.2" font-size="7.45" fill="#333" text-anchor="start" font-weight="normal">&#160;6&#160;&#160;mm</text><g clip-path="url(#cb)"><path d="M393.5 73.2L393.6 72.7M400.63 61.58L402.07 75.72M402.68 84.1L405.22 144.2M406.18 152.53L407.42 159.17M420.87 151.7L421.83 92.5M422.53 84.15L424.37 71.95M425.99 63.72L426.61 61.18M433.87 51.68L435.63 71.62M436.12 80L438.28 154.9M453.92 152.48L454.38 150.12M455.36 141.8L457.84 77M458.73 68.66L460.17 60.54M466.75 53.09L469.05 91.11M469.44 99.5L471.26 154.1M484.33 146.81L485.57 124.29M486.01 115.91L487.99 75.29M489.32 67.05L490.58 62.55M500.29 57.8L502.21 143.3M502.79 151.67L504.61 167.23M517.35 158.31L518.75 141.39M519.28 133L521.82 75.3M523.04 67.03L523.76 64.27M533.7 51.4L535.8 94.3M536.17 102.7L538.63 161.5M553.31 156.62L555.29 136.18M555.89 127.8L558.01 80.2M559.22 71.93L559.98 68.87M562.33 60.82L562.47 60.38M564.5 60.54L566.2 70.56M567.01 78.9L568.89 148.2M569.69 156.54L571.11 165.06M583.86 151L585.94 95.7M586.65 87.34L588.35 74.56M598.01 67.59L599.99 107.41M600.42 115.79L603.18 167.91M604.22 167.98L604.68 165.62M614.18 148.9L616.62 93.6M617.76 85.31L618.64 81.59M623.6 66.37L623.7 66.03M631.26 60.6L633.14 108.8M633.5 117.2L636 168.6M647.9 159.4L650 115.8M650.6 107.42L652.6 86.58M654.12 78.35L654.68 76.35M664.65 67.6L666.95 132.4M667.53 140.78L669.07 155.92M670.44 156.01L670.66 155.09" fill="none" stroke="#000" stroke-width="1.55" stroke-linecap="butt"/><polygon points="396.3,77.3 394.45,80.5 390.75,80.5 388.9,77.3 390.75,74.1 394.45,74.1" fill="#0d00ff"/><polygon points="398.2,68.6 396.35,71.8 392.65,71.8 390.8,68.6 392.65,65.4 396.35,65.4" fill="#0d00ff"/><polygon points="401,60.6 399.15,63.8 395.45,63.8 393.6,60.6 395.45,57.4 399.15,57.4" fill="#0d00ff"/><polygon points="403.9,57.4 402.05,60.6 398.35,60.6 396.5,57.4 398.35,54.2 402.05,54.2" fill="#0d00ff"/><polygon points="406.2,79.9 404.35,83.1 400.65,83.1 398.8,79.9 400.65,76.7 404.35,76.7" fill="#0d00ff"/><polygon points="409.1,148.4 407.25,151.6 403.55,151.6 401.7,148.4 403.55,145.2 407.25,145.2" fill="#0d00ff"/><polygon points="411.9,163.3 410.05,166.5 406.35,166.5 404.5,163.3 406.35,160.1 410.05,160.1" fill="#0d00ff"/><polygon points="414,160.1 412.15,163.3 408.45,163.3 406.6,160.1 408.45,156.9 412.15,156.9" fill="#0d00ff"/><polygon points="416.8,157.7 414.95,160.9 411.25,160.9 409.4,157.7 411.25,154.5 414.95,154.5" fill="#0d00ff"/><polygon points="419.6,155.9 417.75,159.1 414.05,159.1 412.2,155.9 414.05,152.7 417.75,152.7" fill="#0d00ff"/><polygon points="422.4,155.2 420.55,158.4 416.85,158.4 415,155.2 416.85,152 420.55,152" fill="#0d00ff"/><polygon points="424.5,155.9 422.65,159.1 418.95,159.1 417.1,155.9 418.95,152.7 422.65,152.7" fill="#0d00ff"/><polygon points="425.6,88.3 423.75,91.5 420.05,91.5 418.2,88.3 420.05,85.1 423.75,85.1" fill="#0d00ff"/><polygon points="428.7,67.8 426.85,71 423.15,71 421.3,67.8 423.15,64.6 426.85,64.6" fill="#0d00ff"/><polygon points="431.3,57.1 429.45,60.3 425.75,60.3 423.9,57.1 425.75,53.9 429.45,53.9" fill="#0d00ff"/><polygon points="433.9,51.7 432.05,54.9 428.35,54.9 426.5,51.7 428.35,48.5 432.05,48.5" fill="#0d00ff"/><polygon points="435.7,49.4 433.85,52.6 430.15,52.6 428.3,49.4 430.15,46.2 433.85,46.2" fill="#0d00ff"/><polygon points="437.2,47.5 435.35,50.7 431.65,50.7 429.8,47.5 431.65,44.3 435.35,44.3" fill="#0d00ff"/><polygon points="439.7,75.8 437.85,79 434.15,79 432.3,75.8 434.15,72.6 437.85,72.6" fill="#0d00ff"/><polygon points="442.1,159.1 440.25,162.3 436.55,162.3 434.7,159.1 436.55,155.9 440.25,155.9" fill="#0d00ff"/><polygon points="444.9,161.5 443.05,164.7 439.35,164.7 437.5,161.5 439.35,158.3 443.05,158.3" fill="#0d00ff"/><polygon points="447.7,158.3 445.85,161.5 442.15,161.5 440.3,158.3 442.15,155.1 445.85,155.1" fill="#0d00ff"/><polygon points="451.2,156.6 449.35,159.8 445.65,159.8 443.8,156.6 445.65,153.4 449.35,153.4" fill="#0d00ff"/><polygon points="454,155.2 452.15,158.4 448.45,158.4 446.6,155.2 448.45,152 452.15,152" fill="#0d00ff"/><polygon points="456.8,156.6 454.95,159.8 451.25,159.8 449.4,156.6 451.25,153.4 454.95,153.4" fill="#0d00ff"/><polygon points="458.9,146 457.05,149.2 453.35,149.2 451.5,146 453.35,142.8 457.05,142.8" fill="#0d00ff"/><polygon points="461.7,72.8 459.85,76 456.15,76 454.3,72.8 456.15,69.6 459.85,69.6" fill="#0d00ff"/><polygon points="464.6,56.4 462.75,59.6 459.05,59.6 457.2,56.4 459.05,53.2 462.75,53.2" fill="#0d00ff"/><polygon points="467.4,50.8 465.55,54 461.85,54 460,50.8 461.85,47.6 465.55,47.6" fill="#0d00ff"/><polygon points="470.2,48.9 468.35,52.1 464.65,52.1 462.8,48.9 464.65,45.7 468.35,45.7" fill="#0d00ff"/><polygon points="473,95.3 471.15,98.5 467.45,98.5 465.6,95.3 467.45,92.1 471.15,92.1" fill="#0d00ff"/><polygon points="475.1,158.3 473.25,161.5 469.55,161.5 467.7,158.3 469.55,155.1 473.25,155.1" fill="#0d00ff"/><polygon points="478.6,157.3 476.75,160.5 473.05,160.5 471.2,157.3 473.05,154.1 476.75,154.1" fill="#0d00ff"/><polygon points="480.7,151.7 478.85,154.9 475.15,154.9 473.3,151.7 475.15,148.5 478.85,148.5" fill="#0d00ff"/><polygon points="484.2,149.6 482.35,152.8 478.65,152.8 476.8,149.6 478.65,146.4 482.35,146.4" fill="#0d00ff"/><polygon points="487.8,151 485.95,154.2 482.25,154.2 480.4,151 482.25,147.8 485.95,147.8" fill="#0d00ff"/><polygon points="489.5,120.1 487.65,123.3 483.95,123.3 482.1,120.1 483.95,116.9 487.65,116.9" fill="#0d00ff"/><polygon points="491.9,71.1 490.05,74.3 486.35,74.3 484.5,71.1 486.35,67.9 490.05,67.9" fill="#0d00ff"/><polygon points="495.4,58.5 493.55,61.7 489.85,61.7 488,58.5 489.85,55.3 493.55,55.3" fill="#0d00ff"/><polygon points="497.8,52.6 495.95,55.8 492.25,55.8 490.4,52.6 492.25,49.4 495.95,49.4" fill="#0d00ff"/><polygon points="500.6,47.9 498.75,51.1 495.05,51.1 493.2,47.9 495.05,44.7 498.75,44.7" fill="#0d00ff"/><polygon points="501.8,51.5 499.95,54.7 496.25,54.7 494.4,51.5 496.25,48.3 499.95,48.3" fill="#0d00ff"/><polygon points="503.9,53.6 502.05,56.8 498.35,56.8 496.5,53.6 498.35,50.4 502.05,50.4" fill="#0d00ff"/><polygon points="506,147.5 504.15,150.7 500.45,150.7 498.6,147.5 500.45,144.3 504.15,144.3" fill="#0d00ff"/><polygon points="508.8,171.4 506.95,174.6 503.25,174.6 501.4,171.4 503.25,168.2 506.95,168.2" fill="#0d00ff"/><polygon points="511.6,165 509.75,168.2 506.05,168.2 504.2,165 506.05,161.8 509.75,161.8" fill="#0d00ff"/><polygon points="514.4,162.9 512.55,166.1 508.85,166.1 507,162.9 508.85,159.7 512.55,159.7" fill="#0d00ff"/><polygon points="517.2,162.2 515.35,165.4 511.65,165.4 509.8,162.2 511.65,159 515.35,159" fill="#0d00ff"/><polygon points="520.7,162.5 518.85,165.7 515.15,165.7 513.3,162.5 515.15,159.3 518.85,159.3" fill="#0d00ff"/><polygon points="522.8,137.2 520.95,140.4 517.25,140.4 515.4,137.2 517.25,134 520.95,134" fill="#0d00ff"/><polygon points="525.7,71.1 523.85,74.3 520.15,74.3 518.3,71.1 520.15,67.9 523.85,67.9" fill="#0d00ff"/><polygon points="528.5,60.2 526.65,63.4 522.95,63.4 521.1,60.2 522.95,57 526.65,57" fill="#0d00ff"/><polygon points="531.3,55.7 529.45,58.9 525.75,58.9 523.9,55.7 525.75,52.5 529.45,52.5" fill="#0d00ff"/><polygon points="534.1,51.2 532.25,54.4 528.55,54.4 526.7,51.2 528.55,48 532.25,48" fill="#0d00ff"/><polygon points="537.2,47.2 535.35,50.4 531.65,50.4 529.8,47.2 531.65,44 535.35,44" fill="#0d00ff"/><polygon points="539.7,98.5 537.85,101.7 534.15,101.7 532.3,98.5 534.15,95.3 537.85,95.3" fill="#0d00ff"/><polygon points="542.5,165.7 540.65,168.9 536.95,168.9 535.1,165.7 536.95,162.5 540.65,162.5" fill="#0d00ff"/><polygon points="545.3,160.8 543.45,164 539.75,164 537.9,160.8 539.75,157.6 543.45,157.6" fill="#0d00ff"/><polygon points="547.4,158 545.55,161.2 541.85,161.2 540,158 541.85,154.8 545.55,154.8" fill="#0d00ff"/><polygon points="550.2,155.2 548.35,158.4 544.65,158.4 542.8,155.2 544.65,152 548.35,152" fill="#0d00ff"/><polygon points="553.1,153.8 551.25,157 547.55,157 545.7,153.8 547.55,150.6 551.25,150.6" fill="#0d00ff"/><polygon points="555.2,154.5 553.35,157.7 549.65,157.7 547.8,154.5 549.65,151.3 553.35,151.3" fill="#0d00ff"/><polygon points="556.6,160.8 554.75,164 551.05,164 549.2,160.8 551.05,157.6 554.75,157.6" fill="#0d00ff"/><polygon points="559.4,132 557.55,135.2 553.85,135.2 552,132 553.85,128.8 557.55,128.8" fill="#0d00ff"/><polygon points="561.9,76 560.05,79.2 556.35,79.2 554.5,76 556.35,72.8 560.05,72.8" fill="#0d00ff"/><polygon points="564.7,64.8 562.85,68 559.15,68 557.3,64.8 559.15,61.6 562.85,61.6" fill="#0d00ff"/><polygon points="567.5,56.4 565.65,59.6 561.95,59.6 560.1,56.4 561.95,53.2 565.65,53.2" fill="#0d00ff"/><polygon points="570.6,74.7 568.75,77.9 565.05,77.9 563.2,74.7 565.05,71.5 568.75,71.5" fill="#0d00ff"/><polygon points="572.7,152.4 570.85,155.6 567.15,155.6 565.3,152.4 567.15,149.2 570.85,149.2" fill="#0d00ff"/><polygon points="575.5,169.2 573.65,172.4 569.95,172.4 568.1,169.2 569.95,166 573.65,166" fill="#0d00ff"/><polygon points="577.7,162.9 575.85,166.1 572.15,166.1 570.3,162.9 572.15,159.7 575.85,159.7" fill="#0d00ff"/><polygon points="580.9,160.4 579.05,163.6 575.35,163.6 573.5,160.4 575.35,157.2 579.05,157.2" fill="#0d00ff"/><polygon points="583.9,158.7 582.05,161.9 578.35,161.9 576.5,158.7 578.35,155.5 582.05,155.5" fill="#0d00ff"/><polygon points="587.4,155.2 585.55,158.4 581.85,158.4 580,155.2 581.85,152 585.55,152" fill="#0d00ff"/><polygon points="589.8,91.5 587.95,94.7 584.25,94.7 582.4,91.5 584.25,88.3 587.95,88.3" fill="#0d00ff"/><polygon points="592.6,70.4 590.75,73.6 587.05,73.6 585.2,70.4 587.05,67.2 590.75,67.2" fill="#0d00ff"/><polygon points="595.2,65.5 593.35,68.7 589.65,68.7 587.8,65.5 589.65,62.3 593.35,62.3" fill="#0d00ff"/><polygon points="598,61.3 596.15,64.5 592.45,64.5 590.6,61.3 592.45,58.1 596.15,58.1" fill="#0d00ff"/><polygon points="601.5,63.4 599.65,66.6 595.95,66.6 594.1,63.4 595.95,60.2 599.65,60.2" fill="#0d00ff"/><polygon points="603.9,111.6 602.05,114.8 598.35,114.8 596.5,111.6 598.35,108.4 602.05,108.4" fill="#0d00ff"/><polygon points="607.1,172.1 605.25,175.3 601.55,175.3 599.7,172.1 601.55,168.9 605.25,168.9" fill="#0d00ff"/><polygon points="609.2,161.5 607.35,164.7 603.65,164.7 601.8,161.5 603.65,158.3 607.35,158.3" fill="#0d00ff"/><polygon points="612.3,158.7 610.45,161.9 606.75,161.9 604.9,158.7 606.75,155.5 610.45,155.5" fill="#0d00ff"/><polygon points="615.5,161.5 613.65,164.7 609.95,164.7 608.1,161.5 609.95,158.3 613.65,158.3" fill="#0d00ff"/><polygon points="617.7,153.1 615.85,156.3 612.15,156.3 610.3,153.1 612.15,149.9 615.85,149.9" fill="#0d00ff"/><polygon points="620.5,89.4 618.65,92.6 614.95,92.6 613.1,89.4 614.95,86.2 618.65,86.2" fill="#0d00ff"/><polygon points="623.3,77.5 621.45,80.7 617.75,80.7 615.9,77.5 617.75,74.3 621.45,74.3" fill="#0d00ff"/><polygon points="626.1,70.4 624.25,73.6 620.55,73.6 618.7,70.4 620.55,67.2 624.25,67.2" fill="#0d00ff"/><polygon points="628.6,62 626.75,65.2 623.05,65.2 621.2,62 623.05,58.8 626.75,58.8" fill="#0d00ff"/><polygon points="631.4,56.4 629.55,59.6 625.85,59.6 624,56.4 625.85,53.2 629.55,53.2" fill="#0d00ff"/><polygon points="634.8,56.4 632.95,59.6 629.25,59.6 627.4,56.4 629.25,53.2 632.95,53.2" fill="#0d00ff"/><polygon points="637,113 635.15,116.2 631.45,116.2 629.6,113 631.45,109.8 635.15,109.8" fill="#0d00ff"/><polygon points="639.9,172.8 638.05,176 634.35,176 632.5,172.8 634.35,169.6 638.05,169.6" fill="#0d00ff"/><polygon points="642.9,166.4 641.05,169.6 637.35,169.6 635.5,166.4 637.35,163.2 641.05,163.2" fill="#0d00ff"/><polygon points="645.8,161.5 643.95,164.7 640.25,164.7 638.4,161.5 640.25,158.3 643.95,158.3" fill="#0d00ff"/><polygon points="648.6,158.7 646.75,161.9 643.05,161.9 641.2,158.7 643.05,155.5 646.75,155.5" fill="#0d00ff"/><polygon points="651.4,163.6 649.55,166.8 645.85,166.8 644,163.6 645.85,160.4 649.55,160.4" fill="#0d00ff"/><polygon points="653.9,111.6 652.05,114.8 648.35,114.8 646.5,111.6 648.35,108.4 652.05,108.4" fill="#0d00ff"/><polygon points="656.7,82.4 654.85,85.6 651.15,85.6 649.3,82.4 651.15,79.2 654.85,79.2" fill="#0d00ff"/><polygon points="659.5,72.3 657.65,75.5 653.95,75.5 652.1,72.3 653.95,69.1 657.65,69.1" fill="#0d00ff"/><polygon points="662.6,66.9 660.75,70.1 657.05,70.1 655.2,66.9 657.05,63.7 660.75,63.7" fill="#0d00ff"/><polygon points="665.2,60.6 663.35,63.8 659.65,63.8 657.8,60.6 659.65,57.4 663.35,57.4" fill="#0d00ff"/><polygon points="668.2,63.4 666.35,66.6 662.65,66.6 660.8,63.4 662.65,60.2 666.35,60.2" fill="#0d00ff"/><polygon points="670.8,136.6 668.95,139.8 665.25,139.8 663.4,136.6 665.25,133.4 668.95,133.4" fill="#0d00ff"/><polygon points="673.2,160.1 671.35,163.3 667.65,163.3 665.8,160.1 667.65,156.9 671.35,156.9" fill="#0d00ff"/><polygon points="675.3,151 673.45,154.2 669.75,154.2 667.9,151 669.75,147.8 673.45,147.8" fill="#0d00ff"/></g><rect x="395.6" y="48.4" width="277.7" height="120.2" fill="#e87316" fill-opacity="0.3"/><line x1="395.6" y1="47.6" x2="673" y2="47.6" stroke="#4a80c0" stroke-width="1.7" stroke-dasharray="7 5.7 2 5.65"/><line x1="395.6" y1="169.3" x2="673" y2="169.3" stroke="#4a80c0" stroke-width="1.7" stroke-dasharray="7 5.7 2 5.65"/><line x1="391.3" y1="8.6" x2="674" y2="8.6" stroke="#000" stroke-width="1.5"/><line x1="673.3" y1="8.6" x2="673.3" y2="203" stroke="#000" stroke-width="1.5"/><line x1="391.8" y1="8.6" x2="391.8" y2="13.1" stroke="#000" stroke-width="1.4"/><line x1="419.95" y1="8.6" x2="419.95" y2="11.2" stroke="#000" stroke-width="1.3"/><line x1="673.3" y1="28.44" x2="670.7" y2="28.44" stroke="#000" stroke-width="1.3"/><line x1="448.1" y1="8.6" x2="448.1" y2="12.9" stroke="#000" stroke-width="1.3"/><line x1="673.3" y1="48.28" x2="669" y2="48.28" stroke="#000" stroke-width="1.3"/><line x1="476.25" y1="8.6" x2="476.25" y2="11.2" stroke="#000" stroke-width="1.3"/><line x1="673.3" y1="68.12" x2="670.7" y2="68.12" stroke="#000" stroke-width="1.3"/><line x1="504.4" y1="8.6" x2="504.4" y2="12.9" stroke="#000" stroke-width="1.3"/><line x1="673.3" y1="87.96" x2="669" y2="87.96" stroke="#000" stroke-width="1.3"/><line x1="532.55" y1="8.6" x2="532.55" y2="11.2" stroke="#000" stroke-width="1.3"/><line x1="673.3" y1="107.8" x2="670.7" y2="107.8" stroke="#000" stroke-width="1.3"/><line x1="560.7" y1="8.6" x2="560.7" y2="12.9" stroke="#000" stroke-width="1.3"/><line x1="673.3" y1="127.64" x2="669" y2="127.64" stroke="#000" stroke-width="1.3"/><line x1="588.85" y1="8.6" x2="588.85" y2="11.2" stroke="#000" stroke-width="1.3"/><line x1="673.3" y1="147.48" x2="670.7" y2="147.48" stroke="#000" stroke-width="1.3"/><line x1="617" y1="8.6" x2="617" y2="12.9" stroke="#000" stroke-width="1.3"/><line x1="673.3" y1="167.32" x2="669" y2="167.32" stroke="#000" stroke-width="1.3"/><line x1="645.15" y1="8.6" x2="645.15" y2="11.2" stroke="#000" stroke-width="1.3"/><line x1="673.3" y1="187.16" x2="670.7" y2="187.16" stroke="#000" stroke-width="1.3"/><line x1="391.3" y1="207" x2="674" y2="207" stroke="#1b1bff" stroke-width="1.6"/><line x1="673.3" y1="207.7" x2="673.3" y2="203" stroke="#1b1bff" stroke-width="1.5"/><line x1="391.8" y1="207" x2="391.8" y2="203" stroke="#1b1bff" stroke-width="1.4"/><line x1="391.8" y1="207" x2="391.8" y2="202.8" stroke="#1b1bff" stroke-width="1.3"/><line x1="401.18" y1="207" x2="401.18" y2="204.6" stroke="#1b1bff" stroke-width="1.3"/><line x1="410.57" y1="207" x2="410.57" y2="204.6" stroke="#1b1bff" stroke-width="1.3"/><line x1="419.95" y1="207" x2="419.95" y2="204.6" stroke="#1b1bff" stroke-width="1.3"/><line x1="429.33" y1="207" x2="429.33" y2="204.6" stroke="#1b1bff" stroke-width="1.3"/><line x1="438.72" y1="207" x2="438.72" y2="204.6" stroke="#1b1bff" stroke-width="1.3"/><line x1="448.1" y1="207" x2="448.1" y2="202.8" stroke="#1b1bff" stroke-width="1.3"/><line x1="457.48" y1="207" x2="457.48" y2="204.6" stroke="#1b1bff" stroke-width="1.3"/><line x1="466.87" y1="207" x2="466.87" y2="204.6" stroke="#1b1bff" stroke-width="1.3"/><line x1="476.25" y1="207" x2="476.25" y2="204.6" stroke="#1b1bff" stroke-width="1.3"/><line x1="485.63" y1="207" x2="485.63" y2="204.6" stroke="#1b1bff" stroke-width="1.3"/><line x1="495.02" y1="207" x2="495.02" y2="204.6" stroke="#1b1bff" stroke-width="1.3"/><line x1="504.4" y1="207" x2="504.4" y2="202.8" stroke="#1b1bff" stroke-width="1.3"/><line x1="513.78" y1="207" x2="513.78" y2="204.6" stroke="#1b1bff" stroke-width="1.3"/><line x1="523.17" y1="207" x2="523.17" y2="204.6" stroke="#1b1bff" stroke-width="1.3"/><line x1="532.55" y1="207" x2="532.55" y2="204.6" stroke="#1b1bff" stroke-width="1.3"/><line x1="541.93" y1="207" x2="541.93" y2="204.6" stroke="#1b1bff" stroke-width="1.3"/><line x1="551.32" y1="207" x2="551.32" y2="204.6" stroke="#1b1bff" stroke-width="1.3"/><line x1="560.7" y1="207" x2="560.7" y2="202.8" stroke="#1b1bff" stroke-width="1.3"/><line x1="570.08" y1="207" x2="570.08" y2="204.6" stroke="#1b1bff" stroke-width="1.3"/><line x1="579.47" y1="207" x2="579.47" y2="204.6" stroke="#1b1bff" stroke-width="1.3"/><line x1="588.85" y1="207" x2="588.85" y2="204.6" stroke="#1b1bff" stroke-width="1.3"/><line x1="598.23" y1="207" x2="598.23" y2="204.6" stroke="#1b1bff" stroke-width="1.3"/><line x1="607.62" y1="207" x2="607.62" y2="204.6" stroke="#1b1bff" stroke-width="1.3"/><line x1="617" y1="207" x2="617" y2="202.8" stroke="#1b1bff" stroke-width="1.3"/><line x1="626.38" y1="207" x2="626.38" y2="204.6" stroke="#1b1bff" stroke-width="1.3"/><line x1="635.77" y1="207" x2="635.77" y2="204.6" stroke="#1b1bff" stroke-width="1.3"/><line x1="645.15" y1="207" x2="645.15" y2="204.6" stroke="#1b1bff" stroke-width="1.3"/><line x1="654.53" y1="207" x2="654.53" y2="204.6" stroke="#1b1bff" stroke-width="1.3"/><line x1="663.92" y1="207" x2="663.92" y2="204.6" stroke="#1b1bff" stroke-width="1.3"/><line x1="673.3" y1="207" x2="673.3" y2="202.8" stroke="#1b1bff" stroke-width="1.3"/><line x1="394.9" y1="9.1" x2="394.9" y2="207" stroke="#1b1bff" stroke-width="1.6"/><line x1="394.9" y1="207" x2="399.1" y2="207" stroke="#1b1bff" stroke-width="1.3"/><line x1="394.9" y1="198.18" x2="397.3" y2="198.18" stroke="#1b1bff" stroke-width="1.3"/><line x1="394.9" y1="189.36" x2="397.3" y2="189.36" stroke="#1b1bff" stroke-width="1.3"/><line x1="394.9" y1="180.54" x2="397.3" y2="180.54" stroke="#1b1bff" stroke-width="1.3"/><line x1="394.9" y1="171.72" x2="397.3" y2="171.72" stroke="#1b1bff" stroke-width="1.3"/><line x1="394.9" y1="162.9" x2="399.1" y2="162.9" stroke="#1b1bff" stroke-width="1.3"/><line x1="394.9" y1="154.08" x2="397.3" y2="154.08" stroke="#1b1bff" stroke-width="1.3"/><line x1="394.9" y1="145.26" x2="397.3" y2="145.26" stroke="#1b1bff" stroke-width="1.3"/><line x1="394.9" y1="136.44" x2="397.3" y2="136.44" stroke="#1b1bff" stroke-width="1.3"/><line x1="394.9" y1="127.62" x2="397.3" y2="127.62" stroke="#1b1bff" stroke-width="1.3"/><line x1="394.9" y1="118.8" x2="399.1" y2="118.8" stroke="#1b1bff" stroke-width="1.3"/><line x1="394.9" y1="109.98" x2="397.3" y2="109.98" stroke="#1b1bff" stroke-width="1.3"/><line x1="394.9" y1="101.16" x2="397.3" y2="101.16" stroke="#1b1bff" stroke-width="1.3"/><line x1="394.9" y1="92.34" x2="397.3" y2="92.34" stroke="#1b1bff" stroke-width="1.3"/><line x1="394.9" y1="83.52" x2="397.3" y2="83.52" stroke="#1b1bff" stroke-width="1.3"/><line x1="394.9" y1="74.7" x2="399.1" y2="74.7" stroke="#1b1bff" stroke-width="1.3"/><line x1="394.9" y1="65.88" x2="397.3" y2="65.88" stroke="#1b1bff" stroke-width="1.3"/><line x1="394.9" y1="57.06" x2="397.3" y2="57.06" stroke="#1b1bff" stroke-width="1.3"/><line x1="394.9" y1="48.24" x2="397.3" y2="48.24" stroke="#1b1bff" stroke-width="1.3"/><line x1="394.9" y1="39.42" x2="397.3" y2="39.42" stroke="#1b1bff" stroke-width="1.3"/><line x1="394.9" y1="30.6" x2="399.1" y2="30.6" stroke="#1b1bff" stroke-width="1.3"/><line x1="394.9" y1="21.78" x2="397.3" y2="21.78" stroke="#1b1bff" stroke-width="1.3"/><line x1="394.9" y1="12.96" x2="397.3" y2="12.96" stroke="#1b1bff" stroke-width="1.3"/><text x="389.2" y="210.5" font-size="11.3" fill="#1b1bff" text-anchor="end" font-weight="normal" stroke="#1b1bff" stroke-width="0.2">60&#956;</text><text x="389.2" y="166.4" font-size="11.3" fill="#1b1bff" text-anchor="end" font-weight="normal" stroke="#1b1bff" stroke-width="0.2">70&#956;</text><text x="389.2" y="122.3" font-size="11.3" fill="#1b1bff" text-anchor="end" font-weight="normal" stroke="#1b1bff" stroke-width="0.2">80&#956;</text><text x="389.2" y="78.2" font-size="11.3" fill="#1b1bff" text-anchor="end" font-weight="normal" stroke="#1b1bff" stroke-width="0.2">90&#956;</text><text x="389.2" y="34.1" font-size="11.3" fill="#1b1bff" text-anchor="end" font-weight="normal" stroke="#1b1bff" stroke-width="0.2">100&#956;</text><text x="391.8" y="221.1" font-size="11.3" fill="#1b1bff" text-anchor="middle" font-weight="normal" stroke="#1b1bff" stroke-width="0.2">0</text><text x="448.1" y="221.1" font-size="11.3" fill="#1b1bff" text-anchor="middle" font-weight="normal" stroke="#1b1bff" stroke-width="0.2">3</text><text x="504.4" y="221.1" font-size="11.3" fill="#1b1bff" text-anchor="middle" font-weight="normal" stroke="#1b1bff" stroke-width="0.2">7</text><text x="560.7" y="221.1" font-size="11.3" fill="#1b1bff" text-anchor="middle" font-weight="normal" stroke="#1b1bff" stroke-width="0.2">10</text><text x="617" y="221.1" font-size="11.3" fill="#1b1bff" text-anchor="middle" font-weight="normal" stroke="#1b1bff" stroke-width="0.2">13</text><text x="673.3" y="221.1" font-size="11.3" fill="#1b1bff" text-anchor="middle" font-weight="normal" stroke="#1b1bff" stroke-width="0.2">17</text><text x="538.1" y="240.5" font-size="16.8" fill="#1b1bff" text-anchor="middle" font-weight="normal" stroke-width="0.3" stroke="#1b1bff">Time [s]</text><text x="363.2" y="117.3" font-size="16.2" fill="#1b1bff" text-anchor="middle" font-weight="normal" stroke-width="0.3" stroke="#1b1bff" transform="rotate(-90 363.2 117.3)">Current [A]</text><text x="406.8" y="32.2" font-size="21" fill="#000" text-anchor="start" font-weight="bold">b</text><g clip-path="url(#cc)"><path d="M66.49 301.2L70.01 384.5M70.98 393.63L73.22 406.77M95.53 401.84L98.17 391.46M99.61 382.41L102.89 333.29M116.98 313.83L119.22 326.97M120.26 336.09L123.64 396.11M125.1 405.14L126.6 410.66M145.16 402.51L148.44 344.79M149.67 335.7L152.13 324.3M154.7 315.49L155.5 313.31M166.58 305.16L168.92 323.34M169.73 332.49L173.47 405.61M196.72 403.66L197.08 402.34M198.56 393.31L202.24 329.09M203.67 320.05L205.63 312.65M215.58 305.48L218.62 342.62M219.34 351.79L223.26 405.31M240.94 397.93L243.46 376.87M244.39 367.72L247.81 327.98M249.64 319.03L250.96 315.07M265.19 310.4L268.61 394.7M269.72 403.81L272.58 417.69M290.95 409.85L293.15 394.35M294.08 385.21L297.52 327.99M299.4 319.09L300.4 316.41M315.22 304.29L318.08 345.51M318.69 354.69L322.41 413.41" fill="none" stroke="#101010" stroke-width="1.7" stroke-linecap="butt"/><polygon points="51.1,307.4 54.9,310.16 53.45,314.64 48.75,314.64 47.3,310.16" fill="#8a0000"/><polygon points="52.2,299.7 56,302.46 54.55,306.94 49.85,306.94 48.4,302.46" fill="#8a0000"/><polygon points="54.3,299 58.1,301.76 56.65,306.24 51.95,306.24 50.5,301.76" fill="#8a0000"/><polygon points="57.8,293.4 61.6,296.16 60.15,300.64 55.45,300.64 54,296.16" fill="#8a0000"/><polygon points="62.1,286.3 65.9,289.06 64.45,293.54 59.75,293.54 58.3,289.06" fill="#8a0000"/><polygon points="66.3,292.6 70.1,295.36 68.65,299.84 63.95,299.84 62.5,295.36" fill="#8a0000"/><polygon points="70.2,385.1 74,387.86 72.55,392.34 67.85,392.34 66.4,387.86" fill="#8a0000"/><polygon points="74,407.3 77.8,410.06 76.35,414.54 71.65,414.54 70.2,410.06" fill="#8a0000"/><polygon points="77.5,404.1 81.3,406.86 79.85,411.34 75.15,411.34 73.7,406.86" fill="#8a0000"/><polygon points="81,402.3 84.8,405.06 83.35,409.54 78.65,409.54 77.2,405.06" fill="#8a0000"/><polygon points="84.3,402 88.1,404.76 86.65,409.24 81.95,409.24 80.5,404.76" fill="#8a0000"/><polygon points="87.4,401.3 91.2,404.06 89.75,408.54 85.05,408.54 83.6,404.06" fill="#8a0000"/><polygon points="90.9,399.9 94.7,402.66 93.25,407.14 88.55,407.14 87.1,402.66" fill="#8a0000"/><polygon points="94.4,402.3 98.2,405.06 96.75,409.54 92.05,409.54 90.6,405.06" fill="#8a0000"/><polygon points="99.3,383 103.1,385.76 101.65,390.24 96.95,390.24 95.5,385.76" fill="#8a0000"/><polygon points="103.2,324.7 107,327.46 105.55,331.94 100.85,331.94 99.4,327.46" fill="#8a0000"/><polygon points="107.5,316.8 111.3,319.56 109.85,324.04 105.15,324.04 103.7,319.56" fill="#8a0000"/><polygon points="111.2,308.8 115,311.56 113.55,316.04 108.85,316.04 107.4,311.56" fill="#8a0000"/><polygon points="113.8,306.7 117.6,309.46 116.15,313.94 111.45,313.94 110,309.46" fill="#8a0000"/><polygon points="116.2,305.3 120,308.06 118.55,312.54 113.85,312.54 112.4,308.06" fill="#8a0000"/><polygon points="120,327.5 123.8,330.26 122.35,334.74 117.65,334.74 116.2,330.26" fill="#8a0000"/><polygon points="123.9,396.7 127.7,399.46 126.25,403.94 121.55,403.94 120.1,399.46" fill="#8a0000"/><polygon points="127.8,411.1 131.6,413.86 130.15,418.34 125.45,418.34 124,413.86" fill="#8a0000"/><polygon points="131.6,406.2 135.4,408.96 133.95,413.44 129.25,413.44 127.8,408.96" fill="#8a0000"/><polygon points="135.1,404.5 138.9,407.26 137.45,411.74 132.75,411.74 131.3,407.26" fill="#8a0000"/><polygon points="138.7,403.4 142.5,406.16 141.05,410.64 136.35,410.64 134.9,406.16" fill="#8a0000"/><polygon points="141.8,403.2 145.6,405.96 144.15,410.44 139.45,410.44 138,405.96" fill="#8a0000"/><polygon points="144.9,403.1 148.7,405.86 147.25,410.34 142.55,410.34 141.1,405.86" fill="#8a0000"/><polygon points="148.7,336.2 152.5,338.96 151.05,343.44 146.35,343.44 144.9,338.96" fill="#8a0000"/><polygon points="153.1,315.8 156.9,318.56 155.45,323.04 150.75,323.04 149.3,318.56" fill="#8a0000"/><polygon points="157.1,305 160.9,307.76 159.45,312.24 154.75,312.24 153.3,307.76" fill="#8a0000"/><polygon points="161.1,299 164.9,301.76 163.45,306.24 158.75,306.24 157.3,301.76" fill="#8a0000"/><polygon points="163.9,297.1 167.7,299.86 166.25,304.34 161.55,304.34 160.1,299.86" fill="#8a0000"/><polygon points="166,296.6 169.8,299.36 168.35,303.84 163.65,303.84 162.2,299.36" fill="#8a0000"/><polygon points="169.5,323.9 173.3,326.66 171.85,331.14 167.15,331.14 165.7,326.66" fill="#8a0000"/><polygon points="173.7,406.2 177.5,408.96 176.05,413.44 171.35,413.44 169.9,408.96" fill="#8a0000"/><polygon points="178,409 181.8,411.76 180.35,416.24 175.65,416.24 174.2,411.76" fill="#8a0000"/><polygon points="181.5,405.1 185.3,407.86 183.85,412.34 179.15,412.34 177.7,407.86" fill="#8a0000"/><polygon points="185,404.5 188.8,407.26 187.35,411.74 182.65,411.74 181.2,407.26" fill="#8a0000"/><polygon points="188.5,402.7 192.3,405.46 190.85,409.94 186.15,409.94 184.7,405.46" fill="#8a0000"/><polygon points="192,403.1 195.8,405.86 194.35,410.34 189.65,410.34 188.2,405.86" fill="#8a0000"/><polygon points="195.5,404.1 199.3,406.86 197.85,411.34 193.15,411.34 191.7,406.86" fill="#8a0000"/><polygon points="198.3,393.9 202.1,396.66 200.65,401.14 195.95,401.14 194.5,396.66" fill="#8a0000"/><polygon points="202.5,320.5 206.3,323.26 204.85,327.74 200.15,327.74 198.7,323.26" fill="#8a0000"/><polygon points="206.8,304.2 210.6,306.96 209.15,311.44 204.45,311.44 203,306.96" fill="#8a0000"/><polygon points="211,298.3 214.8,301.06 213.35,305.54 208.65,305.54 207.2,301.06" fill="#8a0000"/><polygon points="215.2,296.9 219,299.66 217.55,304.14 212.85,304.14 211.4,299.66" fill="#8a0000"/><polygon points="219,343.2 222.8,345.96 221.35,350.44 216.65,350.44 215.2,345.96" fill="#8a0000"/><polygon points="223.6,405.9 227.4,408.66 225.95,413.14 221.25,413.14 219.8,408.66" fill="#8a0000"/><polygon points="227.8,404.8 231.6,407.56 230.15,412.04 225.45,412.04 224,407.56" fill="#8a0000"/><polygon points="231.4,399.9 235.2,402.66 233.75,407.14 229.05,407.14 227.6,402.66" fill="#8a0000"/><polygon points="234.9,397.8 238.7,400.56 237.25,405.04 232.55,405.04 231.1,400.56" fill="#8a0000"/><polygon points="237.5,397.8 241.3,400.56 239.85,405.04 235.15,405.04 233.7,400.56" fill="#8a0000"/><polygon points="240.4,398.5 244.2,401.26 242.75,405.74 238.05,405.74 236.6,401.26" fill="#8a0000"/><polygon points="244,368.3 247.8,371.06 246.35,375.54 241.65,375.54 240.2,371.06" fill="#8a0000"/><polygon points="248.2,319.4 252,322.16 250.55,326.64 245.85,326.64 244.4,322.16" fill="#8a0000"/><polygon points="252.4,306.7 256.2,309.46 254.75,313.94 250.05,313.94 248.6,309.46" fill="#8a0000"/><polygon points="256.6,300.4 260.4,303.16 258.95,307.64 254.25,307.64 252.8,303.16" fill="#8a0000"/><polygon points="260.8,296.6 264.6,299.36 263.15,303.84 258.45,303.84 257,299.36" fill="#8a0000"/><polygon points="265,301.8 268.8,304.56 267.35,309.04 262.65,309.04 261.2,304.56" fill="#8a0000"/><polygon points="268.8,395.3 272.6,398.06 271.15,402.54 266.45,402.54 265,398.06" fill="#8a0000"/><polygon points="273.5,418.2 277.3,420.96 275.85,425.44 271.15,425.44 269.7,420.96" fill="#8a0000"/><polygon points="277,415.4 280.8,418.16 279.35,422.64 274.65,422.64 273.2,418.16" fill="#8a0000"/><polygon points="280.5,411.8 284.3,414.56 282.85,419.04 278.15,419.04 276.7,414.56" fill="#8a0000"/><polygon points="284,410.4 287.8,413.16 286.35,417.64 281.65,417.64 280.2,413.16" fill="#8a0000"/><polygon points="287.5,409.7 291.3,412.46 289.85,416.94 285.15,416.94 283.7,412.46" fill="#8a0000"/><polygon points="290.3,410.4 294.1,413.16 292.65,417.64 287.95,417.64 286.5,413.16" fill="#8a0000"/><polygon points="293.8,385.8 297.6,388.56 296.15,393.04 291.45,393.04 290,388.56" fill="#8a0000"/><polygon points="297.8,319.4 301.6,322.16 300.15,326.64 295.45,326.64 294,322.16" fill="#8a0000"/><polygon points="302,308.1 305.8,310.86 304.35,315.34 299.65,315.34 298.2,310.86" fill="#8a0000"/><polygon points="306.2,303.2 310,305.96 308.55,310.44 303.85,310.44 302.4,305.96" fill="#8a0000"/><polygon points="310,298.3 313.8,301.06 312.35,305.54 307.65,305.54 306.2,301.06" fill="#8a0000"/><polygon points="312.8,296.9 316.6,299.66 315.15,304.14 310.45,304.14 309,299.66" fill="#8a0000"/><polygon points="314.9,295.7 318.7,298.46 317.25,302.94 312.55,302.94 311.1,298.46" fill="#8a0000"/><polygon points="318.4,346.1 322.2,348.86 320.75,353.34 316.05,353.34 314.6,348.86" fill="#8a0000"/><polygon points="322.7,414 326.5,416.76 325.05,421.24 320.35,421.24 318.9,416.76" fill="#8a0000"/><polygon points="326.2,409 330,411.76 328.55,416.24 323.85,416.24 322.4,411.76" fill="#8a0000"/><polygon points="329,407 332.8,409.76 331.35,414.24 326.65,414.24 325.2,409.76" fill="#8a0000"/></g><line x1="50.9" y1="264.1" x2="50.9" y2="458.9" stroke="#a01c1c" stroke-width="1.6"/><line x1="50.9" y1="458.9" x2="55.2" y2="458.9" stroke="#a01c1c" stroke-width="1.3"/><line x1="50.9" y1="450.09" x2="53.5" y2="450.09" stroke="#a01c1c" stroke-width="1.3"/><line x1="50.9" y1="441.29" x2="53.5" y2="441.29" stroke="#a01c1c" stroke-width="1.3"/><line x1="50.9" y1="432.48" x2="53.5" y2="432.48" stroke="#a01c1c" stroke-width="1.3"/><line x1="50.9" y1="423.68" x2="53.5" y2="423.68" stroke="#a01c1c" stroke-width="1.3"/><line x1="50.9" y1="414.87" x2="55.2" y2="414.87" stroke="#a01c1c" stroke-width="1.3"/><line x1="50.9" y1="406.07" x2="53.5" y2="406.07" stroke="#a01c1c" stroke-width="1.3"/><line x1="50.9" y1="397.26" x2="53.5" y2="397.26" stroke="#a01c1c" stroke-width="1.3"/><line x1="50.9" y1="388.46" x2="53.5" y2="388.46" stroke="#a01c1c" stroke-width="1.3"/><line x1="50.9" y1="379.65" x2="53.5" y2="379.65" stroke="#a01c1c" stroke-width="1.3"/><line x1="50.9" y1="370.85" x2="55.2" y2="370.85" stroke="#a01c1c" stroke-width="1.3"/><line x1="50.9" y1="362.04" x2="53.5" y2="362.04" stroke="#a01c1c" stroke-width="1.3"/><line x1="50.9" y1="353.24" x2="53.5" y2="353.24" stroke="#a01c1c" stroke-width="1.3"/><line x1="50.9" y1="344.43" x2="53.5" y2="344.43" stroke="#a01c1c" stroke-width="1.3"/><line x1="50.9" y1="335.63" x2="53.5" y2="335.63" stroke="#a01c1c" stroke-width="1.3"/><line x1="50.9" y1="326.82" x2="55.2" y2="326.82" stroke="#a01c1c" stroke-width="1.3"/><line x1="50.9" y1="318.02" x2="53.5" y2="318.02" stroke="#a01c1c" stroke-width="1.3"/><line x1="50.9" y1="309.21" x2="53.5" y2="309.21" stroke="#a01c1c" stroke-width="1.3"/><line x1="50.9" y1="300.41" x2="53.5" y2="300.41" stroke="#a01c1c" stroke-width="1.3"/><line x1="50.9" y1="291.6" x2="53.5" y2="291.6" stroke="#a01c1c" stroke-width="1.3"/><line x1="50.9" y1="282.8" x2="55.2" y2="282.8" stroke="#a01c1c" stroke-width="1.3"/><line x1="50.9" y1="273.99" x2="53.5" y2="273.99" stroke="#a01c1c" stroke-width="1.3"/><line x1="50.9" y1="265.19" x2="53.5" y2="265.19" stroke="#a01c1c" stroke-width="1.3"/><rect x="49.8" y="297.6" width="279" height="120" fill="#92c856" fill-opacity="0.35"/><line x1="53.6" y1="297.3" x2="328" y2="297.3" stroke="#4a80c0" stroke-width="1.7" stroke-dasharray="7 5.7 2 5.65"/><line x1="53.6" y1="417.8" x2="328" y2="417.8" stroke="#4a96a8" stroke-width="1.7" stroke-dasharray="7 5.7 2 5.65"/><line x1="50.2" y1="260.6" x2="329.5" y2="260.6" stroke="#000" stroke-width="1.5"/><line x1="50.9" y1="260.6" x2="50.9" y2="264.4" stroke="#000" stroke-width="1.5"/><line x1="328.8" y1="260.6" x2="328.8" y2="455.4" stroke="#000" stroke-width="1.5"/><line x1="78.69" y1="260.6" x2="78.69" y2="263.2" stroke="#000" stroke-width="1.3"/><line x1="328.8" y1="280.43" x2="326.2" y2="280.43" stroke="#000" stroke-width="1.3"/><line x1="106.48" y1="260.6" x2="106.48" y2="264.9" stroke="#000" stroke-width="1.3"/><line x1="328.8" y1="300.26" x2="324.5" y2="300.26" stroke="#000" stroke-width="1.3"/><line x1="134.27" y1="260.6" x2="134.27" y2="263.2" stroke="#000" stroke-width="1.3"/><line x1="328.8" y1="320.09" x2="326.2" y2="320.09" stroke="#000" stroke-width="1.3"/><line x1="162.06" y1="260.6" x2="162.06" y2="264.9" stroke="#000" stroke-width="1.3"/><line x1="328.8" y1="339.92" x2="324.5" y2="339.92" stroke="#000" stroke-width="1.3"/><line x1="189.85" y1="260.6" x2="189.85" y2="263.2" stroke="#000" stroke-width="1.3"/><line x1="328.8" y1="359.75" x2="326.2" y2="359.75" stroke="#000" stroke-width="1.3"/><line x1="217.64" y1="260.6" x2="217.64" y2="264.9" stroke="#000" stroke-width="1.3"/><line x1="328.8" y1="379.58" x2="324.5" y2="379.58" stroke="#000" stroke-width="1.3"/><line x1="245.43" y1="260.6" x2="245.43" y2="263.2" stroke="#000" stroke-width="1.3"/><line x1="328.8" y1="399.41" x2="326.2" y2="399.41" stroke="#000" stroke-width="1.3"/><line x1="273.22" y1="260.6" x2="273.22" y2="264.9" stroke="#000" stroke-width="1.3"/><line x1="328.8" y1="419.24" x2="324.5" y2="419.24" stroke="#000" stroke-width="1.3"/><line x1="301.01" y1="260.6" x2="301.01" y2="263.2" stroke="#000" stroke-width="1.3"/><line x1="328.8" y1="439.07" x2="326.2" y2="439.07" stroke="#000" stroke-width="1.3"/><line x1="50.2" y1="458.9" x2="329.5" y2="458.9" stroke="#a01c1c" stroke-width="1.6"/><line x1="328.8" y1="458.9" x2="328.8" y2="455.1" stroke="#a01c1c" stroke-width="1.5"/><line x1="50.9" y1="458.9" x2="50.9" y2="454.7" stroke="#a01c1c" stroke-width="1.3"/><line x1="60.16" y1="458.9" x2="60.16" y2="456.5" stroke="#a01c1c" stroke-width="1.3"/><line x1="69.43" y1="458.9" x2="69.43" y2="456.5" stroke="#a01c1c" stroke-width="1.3"/><line x1="78.69" y1="458.9" x2="78.69" y2="456.5" stroke="#a01c1c" stroke-width="1.3"/><line x1="87.95" y1="458.9" x2="87.95" y2="456.5" stroke="#a01c1c" stroke-width="1.3"/><line x1="97.22" y1="458.9" x2="97.22" y2="456.5" stroke="#a01c1c" stroke-width="1.3"/><line x1="106.48" y1="458.9" x2="106.48" y2="454.7" stroke="#a01c1c" stroke-width="1.3"/><line x1="115.74" y1="458.9" x2="115.74" y2="456.5" stroke="#a01c1c" stroke-width="1.3"/><line x1="125.01" y1="458.9" x2="125.01" y2="456.5" stroke="#a01c1c" stroke-width="1.3"/><line x1="134.27" y1="458.9" x2="134.27" y2="456.5" stroke="#a01c1c" stroke-width="1.3"/><line x1="143.53" y1="458.9" x2="143.53" y2="456.5" stroke="#a01c1c" stroke-width="1.3"/><line x1="152.8" y1="458.9" x2="152.8" y2="456.5" stroke="#a01c1c" stroke-width="1.3"/><line x1="162.06" y1="458.9" x2="162.06" y2="454.7" stroke="#a01c1c" stroke-width="1.3"/><line x1="171.32" y1="458.9" x2="171.32" y2="456.5" stroke="#a01c1c" stroke-width="1.3"/><line x1="180.59" y1="458.9" x2="180.59" y2="456.5" stroke="#a01c1c" stroke-width="1.3"/><line x1="189.85" y1="458.9" x2="189.85" y2="456.5" stroke="#a01c1c" stroke-width="1.3"/><line x1="199.11" y1="458.9" x2="199.11" y2="456.5" stroke="#a01c1c" stroke-width="1.3"/><line x1="208.38" y1="458.9" x2="208.38" y2="456.5" stroke="#a01c1c" stroke-width="1.3"/><line x1="217.64" y1="458.9" x2="217.64" y2="454.7" stroke="#a01c1c" stroke-width="1.3"/><line x1="226.9" y1="458.9" x2="226.9" y2="456.5" stroke="#a01c1c" stroke-width="1.3"/><line x1="236.17" y1="458.9" x2="236.17" y2="456.5" stroke="#a01c1c" stroke-width="1.3"/><line x1="245.43" y1="458.9" x2="245.43" y2="456.5" stroke="#a01c1c" stroke-width="1.3"/><line x1="254.69" y1="458.9" x2="254.69" y2="456.5" stroke="#a01c1c" stroke-width="1.3"/><line x1="263.96" y1="458.9" x2="263.96" y2="456.5" stroke="#a01c1c" stroke-width="1.3"/><line x1="273.22" y1="458.9" x2="273.22" y2="454.7" stroke="#a01c1c" stroke-width="1.3"/><line x1="282.48" y1="458.9" x2="282.48" y2="456.5" stroke="#a01c1c" stroke-width="1.3"/><line x1="291.75" y1="458.9" x2="291.75" y2="456.5" stroke="#a01c1c" stroke-width="1.3"/><line x1="301.01" y1="458.9" x2="301.01" y2="456.5" stroke="#a01c1c" stroke-width="1.3"/><line x1="310.27" y1="458.9" x2="310.27" y2="456.5" stroke="#a01c1c" stroke-width="1.3"/><line x1="319.54" y1="458.9" x2="319.54" y2="456.5" stroke="#a01c1c" stroke-width="1.3"/><line x1="328.8" y1="458.9" x2="328.8" y2="454.7" stroke="#a01c1c" stroke-width="1.3"/><text x="45.6" y="462.2" font-size="11.3" fill="#a01c1c" text-anchor="end" font-weight="normal" stroke="#a01c1c" stroke-width="0.2">52&#956;</text><text x="45.6" y="418.18" font-size="11.3" fill="#a01c1c" text-anchor="end" font-weight="normal" stroke="#a01c1c" stroke-width="0.2">61&#956;</text><text x="45.6" y="374.15" font-size="11.3" fill="#a01c1c" text-anchor="end" font-weight="normal" stroke="#a01c1c" stroke-width="0.2">70&#956;</text><text x="45.6" y="330.12" font-size="11.3" fill="#a01c1c" text-anchor="end" font-weight="normal" stroke="#a01c1c" stroke-width="0.2">78&#956;</text><text x="45.6" y="286.1" font-size="11.3" fill="#a01c1c" text-anchor="end" font-weight="normal" stroke="#a01c1c" stroke-width="0.2">87&#956;</text><text x="50.9" y="472.5" font-size="11.3" fill="#a01c1c" text-anchor="middle" font-weight="normal" stroke="#a01c1c" stroke-width="0.2">0</text><text x="106.48" y="472.5" font-size="11.3" fill="#a01c1c" text-anchor="middle" font-weight="normal" stroke="#a01c1c" stroke-width="0.2">2</text><text x="162.06" y="472.5" font-size="11.3" fill="#a01c1c" text-anchor="middle" font-weight="normal" stroke="#a01c1c" stroke-width="0.2">4</text><text x="217.64" y="472.5" font-size="11.3" fill="#a01c1c" text-anchor="middle" font-weight="normal" stroke="#a01c1c" stroke-width="0.2">6</text><text x="273.22" y="472.5" font-size="11.3" fill="#a01c1c" text-anchor="middle" font-weight="normal" stroke="#a01c1c" stroke-width="0.2">8</text><text x="328.8" y="472.5" font-size="11.3" fill="#a01c1c" text-anchor="middle" font-weight="normal" stroke="#a01c1c" stroke-width="0.2">10</text><text x="192.4" y="490" font-size="16.5" fill="#a01c1c" text-anchor="middle" font-weight="normal" stroke-width="0.3" stroke="#a01c1c">Time [S]</text><text x="19.2" y="368.5" font-size="16.2" fill="#a01c1c" text-anchor="middle" font-weight="normal" stroke-width="0.3" stroke="#a01c1c" transform="rotate(-90 19.2 368.5)">Current [A]</text><text x="61.2" y="281.3" font-size="21" fill="#000" text-anchor="start" font-weight="bold">c</text><rect x="82" y="275.7" width="99.6" height="11.2" fill="#fff" stroke="#8a8a8a" stroke-width="0.9"/><line x1="83.6" y1="281.9" x2="91" y2="281.9" stroke="#222" stroke-width="1.7"/><line x1="100.4" y1="281.9" x2="107.6" y2="281.9" stroke="#222" stroke-width="1.7"/><polygon points="95.7,278.2 99.31,280.83 97.93,285.07 93.47,285.07 92.09,280.83" fill="#8a0000"/><text x="106.8" y="285.8" font-size="10.1" fill="#222" text-anchor="start" font-weight="normal">After first cutting</text><g clip-path="url(#cd)"><path d="M403.39 312.82L404.01 311.58M406.64 311.91L408.96 322.69M410.01 330.59L413.79 401.41M414.96 409.28L417.14 418.02M434.93 404.41L438.17 347.79M439.13 339.87L441.67 326.33M455.03 318.99L458.47 360.51M459.09 368.49L462.91 421.01M464.56 421.24L465.64 418.26M477.26 410.56L477.74 409.64M479.84 402.11L483.16 345.69M484.86 337.98L486.74 333.22M489.97 325.91L490.13 325.59M493.62 318.39L493.98 317.61M503.99 311.89L507.51 361.01M508.07 368.99L511.63 422.41M528.82 412.61L532.38 367.69M533.21 359.73L535.99 337.97M537.97 330.28L539.23 327.12M553.12 319.39L556.68 385.21M557.59 393.14L560.41 409.16M562.68 409.42L563.42 407.68M574.08 398.34L576.62 380.96M577.55 373.02L580.95 334.38M583.12 326.84L583.78 325.56M594.05 327.39L597.75 385.61M598.41 393.58L601.39 422.22M603.75 422.71L604.05 422.19M607.77 415.11L608.03 414.59M622.84 404.95L625.76 387.05M626.71 379.11L629.99 336.29M631.73 328.56L633.07 325.04M655.74 310.1L658.86 402.1M659.64 410.05L662.56 428.15" fill="none" stroke="#101828" stroke-width="1.6" stroke-linecap="butt"/><circle cx="401.6" cy="316.4" r="3.4" fill="#0a8a0a"/><circle cx="405.8" cy="308" r="3.4" fill="#0a8a0a"/><circle cx="409.8" cy="326.6" r="3.4" fill="#0a8a0a"/><circle cx="414" cy="405.4" r="3.4" fill="#0a8a0a"/><circle cx="418.1" cy="421.9" r="3.4" fill="#0a8a0a"/><circle cx="422" cy="415.2" r="3.4" fill="#0a8a0a"/><circle cx="425.8" cy="412.1" r="3.4" fill="#0a8a0a"/><circle cx="430.4" cy="411.7" r="3.4" fill="#0a8a0a"/><circle cx="434.7" cy="408.4" r="3.4" fill="#0a8a0a"/><circle cx="438.4" cy="343.8" r="3.4" fill="#0a8a0a"/><circle cx="442.4" cy="322.4" r="3.4" fill="#0a8a0a"/><circle cx="446.6" cy="317.4" r="3.4" fill="#0a8a0a"/><circle cx="450.5" cy="313.6" r="3.4" fill="#0a8a0a"/><circle cx="454.7" cy="315" r="3.4" fill="#0a8a0a"/><circle cx="458.8" cy="364.5" r="3.4" fill="#0a8a0a"/><circle cx="463.2" cy="425" r="3.4" fill="#0a8a0a"/><circle cx="467" cy="414.5" r="3.4" fill="#0a8a0a"/><circle cx="471.2" cy="411.7" r="3.4" fill="#0a8a0a"/><circle cx="475.4" cy="414.1" r="3.4" fill="#0a8a0a"/><circle cx="479.6" cy="406.1" r="3.4" fill="#0a8a0a"/><circle cx="483.4" cy="341.7" r="3.4" fill="#0a8a0a"/><circle cx="488.2" cy="329.5" r="3.4" fill="#0a8a0a"/><circle cx="491.9" cy="322" r="3.4" fill="#0a8a0a"/><circle cx="495.7" cy="314" r="3.4" fill="#0a8a0a"/><circle cx="499.5" cy="307.9" r="3.4" fill="#0a8a0a"/><circle cx="503.7" cy="307.9" r="3.4" fill="#0a8a0a"/><circle cx="507.8" cy="365" r="3.4" fill="#0a8a0a"/><circle cx="511.9" cy="426.4" r="3.4" fill="#0a8a0a"/><circle cx="516.1" cy="419.4" r="3.4" fill="#0a8a0a"/><circle cx="520" cy="414.9" r="3.4" fill="#0a8a0a"/><circle cx="524.3" cy="411.7" r="3.4" fill="#0a8a0a"/><circle cx="528.5" cy="416.6" r="3.4" fill="#0a8a0a"/><circle cx="532.7" cy="363.7" r="3.4" fill="#0a8a0a"/><circle cx="536.5" cy="334" r="3.4" fill="#0a8a0a"/><circle cx="540.7" cy="323.4" r="3.4" fill="#0a8a0a"/><circle cx="544.9" cy="318.5" r="3.4" fill="#0a8a0a"/><circle cx="548.7" cy="312.2" r="3.4" fill="#0a8a0a"/><circle cx="552.9" cy="315.4" r="3.4" fill="#0a8a0a"/><circle cx="556.9" cy="389.2" r="3.4" fill="#0a8a0a"/><circle cx="561.1" cy="413.1" r="3.4" fill="#0a8a0a"/><circle cx="565" cy="404" r="3.4" fill="#0a8a0a"/><circle cx="569.2" cy="400.4" r="3.4" fill="#0a8a0a"/><circle cx="573.5" cy="402.3" r="3.4" fill="#0a8a0a"/><circle cx="577.2" cy="377" r="3.4" fill="#0a8a0a"/><circle cx="581.3" cy="330.4" r="3.4" fill="#0a8a0a"/><circle cx="585.6" cy="322" r="3.4" fill="#0a8a0a"/><circle cx="589.8" cy="318.2" r="3.4" fill="#0a8a0a"/><circle cx="593.8" cy="323.4" r="3.4" fill="#0a8a0a"/><circle cx="598" cy="389.6" r="3.4" fill="#0a8a0a"/><circle cx="601.8" cy="426.2" r="3.4" fill="#0a8a0a"/><circle cx="606" cy="418.7" r="3.4" fill="#0a8a0a"/><circle cx="609.8" cy="411" r="3.4" fill="#0a8a0a"/><circle cx="613.7" cy="407" r="3.4" fill="#0a8a0a"/><circle cx="618" cy="405.6" r="3.4" fill="#0a8a0a"/><circle cx="622.2" cy="408.9" r="3.4" fill="#0a8a0a"/><circle cx="626.4" cy="383.1" r="3.4" fill="#0a8a0a"/><circle cx="630.3" cy="332.3" r="3.4" fill="#0a8a0a"/><circle cx="634.5" cy="321.3" r="3.4" fill="#0a8a0a"/><circle cx="638.7" cy="315" r="3.4" fill="#0a8a0a"/><circle cx="642.5" cy="310.1" r="3.4" fill="#0a8a0a"/><circle cx="646.1" cy="307.2" r="3.4" fill="#0a8a0a"/><circle cx="649.6" cy="306.1" r="3.4" fill="#0a8a0a"/><circle cx="652.4" cy="305.8" r="3.4" fill="#0a8a0a"/><circle cx="655.6" cy="306.1" r="3.4" fill="#0a8a0a"/><circle cx="659" cy="406.1" r="3.4" fill="#0a8a0a"/><circle cx="663.2" cy="432.1" r="3.4" fill="#0a8a0a"/><circle cx="667.1" cy="426.4" r="3.4" fill="#0a8a0a"/><circle cx="671.1" cy="422.9" r="3.4" fill="#0a8a0a"/><circle cx="675" cy="422.2" r="3.4" fill="#0a8a0a"/></g><line x1="399.2" y1="264" x2="399.2" y2="460.7" stroke="#2a922a" stroke-width="1.6"/><line x1="399.2" y1="460.7" x2="403.5" y2="460.7" stroke="#2a922a" stroke-width="1.3"/><line x1="399.2" y1="451.77" x2="401.8" y2="451.77" stroke="#2a922a" stroke-width="1.3"/><line x1="399.2" y1="442.85" x2="401.8" y2="442.85" stroke="#2a922a" stroke-width="1.3"/><line x1="399.2" y1="433.92" x2="401.8" y2="433.92" stroke="#2a922a" stroke-width="1.3"/><line x1="399.2" y1="425" x2="401.8" y2="425" stroke="#2a922a" stroke-width="1.3"/><line x1="399.2" y1="416.07" x2="403.5" y2="416.07" stroke="#2a922a" stroke-width="1.3"/><line x1="399.2" y1="407.15" x2="401.8" y2="407.15" stroke="#2a922a" stroke-width="1.3"/><line x1="399.2" y1="398.22" x2="401.8" y2="398.22" stroke="#2a922a" stroke-width="1.3"/><line x1="399.2" y1="389.3" x2="401.8" y2="389.3" stroke="#2a922a" stroke-width="1.3"/><line x1="399.2" y1="380.37" x2="401.8" y2="380.37" stroke="#2a922a" stroke-width="1.3"/><line x1="399.2" y1="371.45" x2="403.5" y2="371.45" stroke="#2a922a" stroke-width="1.3"/><line x1="399.2" y1="362.52" x2="401.8" y2="362.52" stroke="#2a922a" stroke-width="1.3"/><line x1="399.2" y1="353.6" x2="401.8" y2="353.6" stroke="#2a922a" stroke-width="1.3"/><line x1="399.2" y1="344.67" x2="401.8" y2="344.67" stroke="#2a922a" stroke-width="1.3"/><line x1="399.2" y1="335.75" x2="401.8" y2="335.75" stroke="#2a922a" stroke-width="1.3"/><line x1="399.2" y1="326.82" x2="403.5" y2="326.82" stroke="#2a922a" stroke-width="1.3"/><line x1="399.2" y1="317.9" x2="401.8" y2="317.9" stroke="#2a922a" stroke-width="1.3"/><line x1="399.2" y1="308.97" x2="401.8" y2="308.97" stroke="#2a922a" stroke-width="1.3"/><line x1="399.2" y1="300.05" x2="401.8" y2="300.05" stroke="#2a922a" stroke-width="1.3"/><line x1="399.2" y1="291.12" x2="401.8" y2="291.12" stroke="#2a922a" stroke-width="1.3"/><line x1="399.2" y1="282.2" x2="403.5" y2="282.2" stroke="#2a922a" stroke-width="1.3"/><line x1="399.2" y1="273.27" x2="401.8" y2="273.27" stroke="#2a922a" stroke-width="1.3"/><line x1="399.2" y1="264.35" x2="401.8" y2="264.35" stroke="#2a922a" stroke-width="1.3"/><rect x="395.5" y="305.7" width="278" height="121" fill="#4f8ad8" fill-opacity="0.45"/><line x1="397.6" y1="305.5" x2="673.5" y2="305.5" stroke="#4a7cc4" stroke-width="1.7" stroke-dasharray="7 5.7 2 5.65"/><line x1="397.6" y1="426.8" x2="673.5" y2="426.8" stroke="#4a7cc4" stroke-width="1.7" stroke-dasharray="7 5.7 2 5.65"/><line x1="398.5" y1="260.2" x2="677.9" y2="260.2" stroke="#000" stroke-width="1.5"/><line x1="399.2" y1="260.2" x2="399.2" y2="264.2" stroke="#000" stroke-width="1.5"/><line x1="677.2" y1="260.2" x2="677.2" y2="457.2" stroke="#000" stroke-width="1.5"/><line x1="427" y1="260.2" x2="427" y2="262.8" stroke="#000" stroke-width="1.3"/><line x1="677.2" y1="280.25" x2="674.6" y2="280.25" stroke="#000" stroke-width="1.3"/><line x1="454.8" y1="260.2" x2="454.8" y2="264.5" stroke="#000" stroke-width="1.3"/><line x1="677.2" y1="300.3" x2="672.9" y2="300.3" stroke="#000" stroke-width="1.3"/><line x1="482.6" y1="260.2" x2="482.6" y2="262.8" stroke="#000" stroke-width="1.3"/><line x1="677.2" y1="320.35" x2="674.6" y2="320.35" stroke="#000" stroke-width="1.3"/><line x1="510.4" y1="260.2" x2="510.4" y2="264.5" stroke="#000" stroke-width="1.3"/><line x1="677.2" y1="340.4" x2="672.9" y2="340.4" stroke="#000" stroke-width="1.3"/><line x1="538.2" y1="260.2" x2="538.2" y2="262.8" stroke="#000" stroke-width="1.3"/><line x1="677.2" y1="360.45" x2="674.6" y2="360.45" stroke="#000" stroke-width="1.3"/><line x1="566" y1="260.2" x2="566" y2="264.5" stroke="#000" stroke-width="1.3"/><line x1="677.2" y1="380.5" x2="672.9" y2="380.5" stroke="#000" stroke-width="1.3"/><line x1="593.8" y1="260.2" x2="593.8" y2="262.8" stroke="#000" stroke-width="1.3"/><line x1="677.2" y1="400.55" x2="674.6" y2="400.55" stroke="#000" stroke-width="1.3"/><line x1="621.6" y1="260.2" x2="621.6" y2="264.5" stroke="#000" stroke-width="1.3"/><line x1="677.2" y1="420.6" x2="672.9" y2="420.6" stroke="#000" stroke-width="1.3"/><line x1="649.4" y1="260.2" x2="649.4" y2="262.8" stroke="#000" stroke-width="1.3"/><line x1="677.2" y1="440.65" x2="674.6" y2="440.65" stroke="#000" stroke-width="1.3"/><line x1="398.5" y1="460.7" x2="677.9" y2="460.7" stroke="#2a922a" stroke-width="1.6"/><line x1="677.2" y1="460.7" x2="677.2" y2="456.9" stroke="#2a922a" stroke-width="1.5"/><line x1="399.2" y1="460.7" x2="399.2" y2="456.5" stroke="#2a922a" stroke-width="1.3"/><line x1="408.47" y1="460.7" x2="408.47" y2="458.3" stroke="#2a922a" stroke-width="1.3"/><line x1="417.73" y1="460.7" x2="417.73" y2="458.3" stroke="#2a922a" stroke-width="1.3"/><line x1="427" y1="460.7" x2="427" y2="458.3" stroke="#2a922a" stroke-width="1.3"/><line x1="436.27" y1="460.7" x2="436.27" y2="458.3" stroke="#2a922a" stroke-width="1.3"/><line x1="445.53" y1="460.7" x2="445.53" y2="458.3" stroke="#2a922a" stroke-width="1.3"/><line x1="454.8" y1="460.7" x2="454.8" y2="456.5" stroke="#2a922a" stroke-width="1.3"/><line x1="464.07" y1="460.7" x2="464.07" y2="458.3" stroke="#2a922a" stroke-width="1.3"/><line x1="473.33" y1="460.7" x2="473.33" y2="458.3" stroke="#2a922a" stroke-width="1.3"/><line x1="482.6" y1="460.7" x2="482.6" y2="458.3" stroke="#2a922a" stroke-width="1.3"/><line x1="491.87" y1="460.7" x2="491.87" y2="458.3" stroke="#2a922a" stroke-width="1.3"/><line x1="501.13" y1="460.7" x2="501.13" y2="458.3" stroke="#2a922a" stroke-width="1.3"/><line x1="510.4" y1="460.7" x2="510.4" y2="456.5" stroke="#2a922a" stroke-width="1.3"/><line x1="519.67" y1="460.7" x2="519.67" y2="458.3" stroke="#2a922a" stroke-width="1.3"/><line x1="528.93" y1="460.7" x2="528.93" y2="458.3" stroke="#2a922a" stroke-width="1.3"/><line x1="538.2" y1="460.7" x2="538.2" y2="458.3" stroke="#2a922a" stroke-width="1.3"/><line x1="547.47" y1="460.7" x2="547.47" y2="458.3" stroke="#2a922a" stroke-width="1.3"/><line x1="556.73" y1="460.7" x2="556.73" y2="458.3" stroke="#2a922a" stroke-width="1.3"/><line x1="566" y1="460.7" x2="566" y2="456.5" stroke="#2a922a" stroke-width="1.3"/><line x1="575.27" y1="460.7" x2="575.27" y2="458.3" stroke="#2a922a" stroke-width="1.3"/><line x1="584.53" y1="460.7" x2="584.53" y2="458.3" stroke="#2a922a" stroke-width="1.3"/><line x1="593.8" y1="460.7" x2="593.8" y2="458.3" stroke="#2a922a" stroke-width="1.3"/><line x1="603.07" y1="460.7" x2="603.07" y2="458.3" stroke="#2a922a" stroke-width="1.3"/><line x1="612.33" y1="460.7" x2="612.33" y2="458.3" stroke="#2a922a" stroke-width="1.3"/><line x1="621.6" y1="460.7" x2="621.6" y2="456.5" stroke="#2a922a" stroke-width="1.3"/><line x1="630.87" y1="460.7" x2="630.87" y2="458.3" stroke="#2a922a" stroke-width="1.3"/><line x1="640.13" y1="460.7" x2="640.13" y2="458.3" stroke="#2a922a" stroke-width="1.3"/><line x1="649.4" y1="460.7" x2="649.4" y2="458.3" stroke="#2a922a" stroke-width="1.3"/><line x1="658.67" y1="460.7" x2="658.67" y2="458.3" stroke="#2a922a" stroke-width="1.3"/><line x1="667.93" y1="460.7" x2="667.93" y2="458.3" stroke="#2a922a" stroke-width="1.3"/><line x1="677.2" y1="460.7" x2="677.2" y2="456.5" stroke="#2a922a" stroke-width="1.3"/><text x="394.6" y="463.9" font-size="11.3" fill="#2a922a" text-anchor="end" font-weight="normal" stroke="#2a922a" stroke-width="0.2">40&#956;</text><text x="394.6" y="419.27" font-size="11.3" fill="#2a922a" text-anchor="end" font-weight="normal" stroke="#2a922a" stroke-width="0.2">47&#956;</text><text x="394.6" y="374.65" font-size="11.3" fill="#2a922a" text-anchor="end" font-weight="normal" stroke="#2a922a" stroke-width="0.2">53&#956;</text><text x="394.6" y="330.02" font-size="11.3" fill="#2a922a" text-anchor="end" font-weight="normal" stroke="#2a922a" stroke-width="0.2">60&#956;</text><text x="394.6" y="285.4" font-size="11.3" fill="#2a922a" text-anchor="end" font-weight="normal" stroke="#2a922a" stroke-width="0.2">67&#956;</text><text x="399.2" y="473.8" font-size="11.3" fill="#2a922a" text-anchor="middle" font-weight="normal" stroke="#2a922a" stroke-width="0.2">0</text><text x="454.8" y="473.8" font-size="11.3" fill="#2a922a" text-anchor="middle" font-weight="normal" stroke="#2a922a" stroke-width="0.2">2</text><text x="510.4" y="473.8" font-size="11.3" fill="#2a922a" text-anchor="middle" font-weight="normal" stroke="#2a922a" stroke-width="0.2">4</text><text x="566" y="473.8" font-size="11.3" fill="#2a922a" text-anchor="middle" font-weight="normal" stroke="#2a922a" stroke-width="0.2">6</text><text x="621.6" y="473.8" font-size="11.3" fill="#2a922a" text-anchor="middle" font-weight="normal" stroke="#2a922a" stroke-width="0.2">8</text><text x="677.2" y="473.8" font-size="11.3" fill="#2a922a" text-anchor="middle" font-weight="normal" stroke="#2a922a" stroke-width="0.2">10</text><text x="542" y="490.7" font-size="16.5" fill="#2a922a" text-anchor="middle" font-weight="normal" stroke-width="0.3" stroke="#2a922a">Time [s]</text><text x="366.6" y="374.1" font-size="16.2" fill="#2a922a" text-anchor="middle" font-weight="normal" stroke-width="0.3" stroke="#2a922a" transform="rotate(-90 366.6 374.1)">Current [A]</text><text x="409.8" y="285.3" font-size="21" fill="#000" text-anchor="start" font-weight="bold">d</text><rect x="541.8" y="285.4" width="122.4" height="12" fill="#fff" stroke="#8a8a8a" stroke-width="0.9"/><line x1="543.7" y1="291.7" x2="551.8" y2="291.7" stroke="#222" stroke-width="1.6"/><line x1="559.2" y1="291.7" x2="567.4" y2="291.7" stroke="#222" stroke-width="1.6"/><circle cx="555.5" cy="291.7" r="3.4" fill="#0a8a0a"/><text x="569.9" y="295.2" font-size="10.2" fill="#222" text-anchor="start" font-weight="normal">After second cutting</text></svg></body></html>
